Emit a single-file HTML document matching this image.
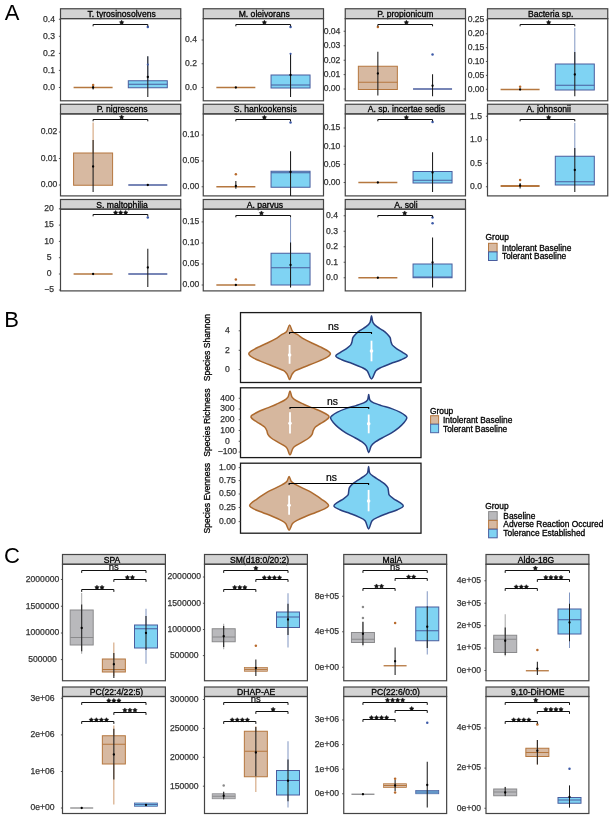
<!DOCTYPE html>
<html><head><meta charset="utf-8"><style>
html,body{margin:0;padding:0;background:#fff;}
body{width:612px;height:818px;overflow:hidden;}
svg{display:block;font-family:"Liberation Sans", sans-serif;will-change:transform;}
</style></head><body>
<svg width="612" height="818" viewBox="0 0 612 818">
<rect width="612" height="818" fill="#fff"/>
<text x="4.70" y="20.00" font-size="22" text-anchor="start" fill="#000" >A</text>
<rect x="60.50" y="8.75" width="120.25" height="9.85" fill="#d3d3d3" stroke="#444444" stroke-width="1.2"/>
<text x="121.62" y="17.07" font-size="8.6" text-anchor="middle" fill="#000" stroke="#000" stroke-width="0.3" >T. tyrosinosolvens</text>
<rect x="60.50" y="18.60" width="120.25" height="82.20" fill="none" stroke="#444444" stroke-width="1.2"/>
<line x1="58.90" y1="19.30" x2="60.50" y2="19.30" stroke="#444444" stroke-width="0.9" />
<text x="49.05" y="21.68" font-size="8.6" text-anchor="middle" fill="#333333" stroke="#333333" stroke-width="0.25" >0.4</text>
<line x1="58.90" y1="36.30" x2="60.50" y2="36.30" stroke="#444444" stroke-width="0.9" />
<text x="49.05" y="38.68" font-size="8.6" text-anchor="middle" fill="#333333" stroke="#333333" stroke-width="0.25" >0.3</text>
<line x1="58.90" y1="53.40" x2="60.50" y2="53.40" stroke="#444444" stroke-width="0.9" />
<text x="49.05" y="55.78" font-size="8.6" text-anchor="middle" fill="#333333" stroke="#333333" stroke-width="0.25" >0.2</text>
<line x1="58.90" y1="70.40" x2="60.50" y2="70.40" stroke="#444444" stroke-width="0.9" />
<text x="49.05" y="72.78" font-size="8.6" text-anchor="middle" fill="#333333" stroke="#333333" stroke-width="0.25" >0.1</text>
<line x1="58.90" y1="87.50" x2="60.50" y2="87.50" stroke="#444444" stroke-width="0.9" />
<text x="49.05" y="89.88" font-size="8.6" text-anchor="middle" fill="#333333" stroke="#333333" stroke-width="0.25" >0.0</text>
<line x1="73.60" y1="87.50" x2="112.60" y2="87.50" stroke="#b5773f" stroke-width="1.3" />
<line x1="93.10" y1="85.50" x2="93.10" y2="89.50" stroke="#1c1c1c" stroke-width="1.05" />
<circle cx="93.10" cy="85.00" r="1.25" fill="#b86a2c"/>
<circle cx="93.10" cy="87.50" r="1.15" fill="#000"/>
<line x1="147.80" y1="56.50" x2="147.80" y2="87.75" stroke="#8196c2" stroke-width="1.0" />
<rect x="128.30" y="80.75" width="39.00" height="7.00" fill="#7fd3f3" stroke="#4a5d9e" stroke-width="1.0"/>
<line x1="128.30" y1="84.25" x2="167.30" y2="84.25" stroke="#4a5d9e" stroke-width="1.0" />
<line x1="147.80" y1="56.25" x2="147.80" y2="97.00" stroke="#1c1c1c" stroke-width="1.05" />
<circle cx="147.80" cy="27.00" r="1.25" fill="#3d5aa8"/>
<circle cx="147.80" cy="64.50" r="1.1" fill="#3d5aa8"/>
<circle cx="147.80" cy="77.00" r="1.15" fill="#000"/>
<path d="M93.10 26.30 L93.10 24.50 L147.80 24.50 L147.80 26.30" fill="none" stroke="#111" stroke-width="1.0" stroke-linejoin="round"/>
<polygon points="121.65,20.20 122.39,21.48 123.84,21.79 122.85,22.89 123.00,24.36 121.65,23.77 120.30,24.36 120.45,22.89 119.46,21.79 120.91,21.48" fill="#111" stroke="#111" stroke-width="0.5" stroke-linejoin="round"/>
<rect x="203.25" y="8.75" width="120.25" height="9.85" fill="#d3d3d3" stroke="#444444" stroke-width="1.2"/>
<text x="264.23" y="17.07" font-size="8.6" text-anchor="middle" fill="#000" stroke="#000" stroke-width="0.3" >M. oleivorans</text>
<rect x="203.25" y="18.60" width="120.25" height="82.20" fill="none" stroke="#444444" stroke-width="1.2"/>
<line x1="201.65" y1="40.00" x2="203.25" y2="40.00" stroke="#444444" stroke-width="0.9" />
<text x="190.95" y="42.38" font-size="8.6" text-anchor="middle" fill="#333333" stroke="#333333" stroke-width="0.25" >0.4</text>
<line x1="201.65" y1="63.75" x2="203.25" y2="63.75" stroke="#444444" stroke-width="0.9" />
<text x="190.95" y="66.13" font-size="8.6" text-anchor="middle" fill="#333333" stroke="#333333" stroke-width="0.25" >0.2</text>
<line x1="201.65" y1="87.50" x2="203.25" y2="87.50" stroke="#444444" stroke-width="0.9" />
<text x="190.95" y="89.88" font-size="8.6" text-anchor="middle" fill="#333333" stroke="#333333" stroke-width="0.25" >0.0</text>
<line x1="216.35" y1="87.50" x2="255.35" y2="87.50" stroke="#b5773f" stroke-width="1.3" />
<circle cx="235.85" cy="87.50" r="1.15" fill="#000"/>
<line x1="290.55" y1="53.75" x2="290.55" y2="88.00" stroke="#8196c2" stroke-width="1.0" />
<rect x="271.05" y="75.00" width="39.00" height="13.00" fill="#7fd3f3" stroke="#4a5d9e" stroke-width="1.0"/>
<line x1="271.05" y1="85.00" x2="310.05" y2="85.00" stroke="#4a5d9e" stroke-width="1.0" />
<line x1="290.55" y1="53.75" x2="290.55" y2="97.00" stroke="#1c1c1c" stroke-width="1.05" />
<circle cx="290.55" cy="27.00" r="1.25" fill="#3d5aa8"/>
<circle cx="290.55" cy="53.75" r="1.1" fill="#3d5aa8"/>
<circle cx="290.55" cy="75.00" r="1.15" fill="#000"/>
<path d="M235.85 26.30 L235.85 24.50 L290.55 24.50 L290.55 26.30" fill="none" stroke="#111" stroke-width="1.0" stroke-linejoin="round"/>
<polygon points="264.40,20.20 265.14,21.48 266.59,21.79 265.60,22.89 265.75,24.36 264.40,23.77 263.05,24.36 263.20,22.89 262.21,21.79 263.66,21.48" fill="#111" stroke="#111" stroke-width="0.5" stroke-linejoin="round"/>
<rect x="345.25" y="8.75" width="120.25" height="9.85" fill="#d3d3d3" stroke="#444444" stroke-width="1.2"/>
<text x="405.38" y="17.07" font-size="8.6" text-anchor="middle" fill="#000" stroke="#000" stroke-width="0.3" >P. propionicum</text>
<rect x="345.25" y="18.60" width="120.25" height="82.20" fill="none" stroke="#444444" stroke-width="1.2"/>
<line x1="343.65" y1="31.25" x2="345.25" y2="31.25" stroke="#444444" stroke-width="0.9" />
<text x="332.00" y="33.63" font-size="8.6" text-anchor="middle" fill="#333333" stroke="#333333" stroke-width="0.25" >0.04</text>
<line x1="343.65" y1="45.75" x2="345.25" y2="45.75" stroke="#444444" stroke-width="0.9" />
<text x="332.00" y="48.13" font-size="8.6" text-anchor="middle" fill="#333333" stroke="#333333" stroke-width="0.25" >0.03</text>
<line x1="343.65" y1="60.25" x2="345.25" y2="60.25" stroke="#444444" stroke-width="0.9" />
<text x="332.00" y="62.63" font-size="8.6" text-anchor="middle" fill="#333333" stroke="#333333" stroke-width="0.25" >0.02</text>
<line x1="343.65" y1="74.60" x2="345.25" y2="74.60" stroke="#444444" stroke-width="0.9" />
<text x="332.00" y="76.98" font-size="8.6" text-anchor="middle" fill="#333333" stroke="#333333" stroke-width="0.25" >0.01</text>
<line x1="343.65" y1="89.00" x2="345.25" y2="89.00" stroke="#444444" stroke-width="0.9" />
<text x="332.00" y="91.38" font-size="8.6" text-anchor="middle" fill="#333333" stroke="#333333" stroke-width="0.25" >0.00</text>
<rect x="358.35" y="66.25" width="39.00" height="23.25" fill="#d7b9a1" stroke="#b5773f" stroke-width="1.0"/>
<line x1="358.35" y1="82.25" x2="397.35" y2="82.25" stroke="#b5773f" stroke-width="1.0" />
<line x1="377.85" y1="51.75" x2="377.85" y2="95.50" stroke="#1c1c1c" stroke-width="1.05" />
<circle cx="377.85" cy="27.00" r="1.25" fill="#b86a2c"/>
<circle cx="377.85" cy="73.50" r="1.15" fill="#000"/>
<line x1="413.05" y1="89.00" x2="452.05" y2="89.00" stroke="#4a5d9e" stroke-width="1.3" />
<line x1="432.55" y1="74.25" x2="432.55" y2="96.25" stroke="#1c1c1c" stroke-width="1.05" />
<circle cx="432.55" cy="54.50" r="1.25" fill="#3d5aa8"/>
<circle cx="432.55" cy="85.75" r="1.15" fill="#000"/>
<path d="M377.85 26.30 L377.85 24.50 L432.55 24.50 L432.55 26.30" fill="none" stroke="#111" stroke-width="1.0" stroke-linejoin="round"/>
<polygon points="406.40,20.20 407.14,21.48 408.59,21.79 407.60,22.89 407.75,24.36 406.40,23.77 405.05,24.36 405.20,22.89 404.21,21.79 405.66,21.48" fill="#111" stroke="#111" stroke-width="0.5" stroke-linejoin="round"/>
<rect x="487.50" y="8.75" width="120.25" height="9.85" fill="#d3d3d3" stroke="#444444" stroke-width="1.2"/>
<text x="550.62" y="17.07" font-size="8.6" text-anchor="middle" fill="#000" stroke="#000" stroke-width="0.3" >Bacteria sp.</text>
<rect x="487.50" y="18.60" width="120.25" height="82.20" fill="none" stroke="#444444" stroke-width="1.2"/>
<line x1="485.90" y1="20.00" x2="487.50" y2="20.00" stroke="#444444" stroke-width="0.9" />
<text x="476.00" y="22.38" font-size="8.6" text-anchor="middle" fill="#333333" stroke="#333333" stroke-width="0.25" >0.25</text>
<line x1="485.90" y1="33.80" x2="487.50" y2="33.80" stroke="#444444" stroke-width="0.9" />
<text x="476.00" y="36.18" font-size="8.6" text-anchor="middle" fill="#333333" stroke="#333333" stroke-width="0.25" >0.20</text>
<line x1="485.90" y1="47.70" x2="487.50" y2="47.70" stroke="#444444" stroke-width="0.9" />
<text x="476.00" y="50.08" font-size="8.6" text-anchor="middle" fill="#333333" stroke="#333333" stroke-width="0.25" >0.15</text>
<line x1="485.90" y1="61.50" x2="487.50" y2="61.50" stroke="#444444" stroke-width="0.9" />
<text x="476.00" y="63.88" font-size="8.6" text-anchor="middle" fill="#333333" stroke="#333333" stroke-width="0.25" >0.10</text>
<line x1="485.90" y1="75.40" x2="487.50" y2="75.40" stroke="#444444" stroke-width="0.9" />
<text x="476.00" y="77.78" font-size="8.6" text-anchor="middle" fill="#333333" stroke="#333333" stroke-width="0.25" >0.05</text>
<line x1="485.90" y1="89.25" x2="487.50" y2="89.25" stroke="#444444" stroke-width="0.9" />
<text x="476.00" y="91.63" font-size="8.6" text-anchor="middle" fill="#333333" stroke="#333333" stroke-width="0.25" >0.00</text>
<line x1="500.60" y1="89.50" x2="539.60" y2="89.50" stroke="#b5773f" stroke-width="1.3" />
<circle cx="520.10" cy="86.80" r="1.25" fill="#b86a2c"/>
<circle cx="520.10" cy="89.50" r="1.15" fill="#000"/>
<line x1="574.80" y1="28.00" x2="574.80" y2="64.00" stroke="#8196c2" stroke-width="1.0" />
<rect x="555.30" y="64.00" width="39.00" height="26.00" fill="#7fd3f3" stroke="#4a5d9e" stroke-width="1.0"/>
<line x1="555.30" y1="85.25" x2="594.30" y2="85.25" stroke="#4a5d9e" stroke-width="1.0" />
<line x1="574.80" y1="52.00" x2="574.80" y2="96.25" stroke="#1c1c1c" stroke-width="1.05" />
<circle cx="574.80" cy="74.50" r="1.15" fill="#000"/>
<path d="M520.10 26.30 L520.10 24.50 L574.80 24.50 L574.80 26.30" fill="none" stroke="#111" stroke-width="1.0" stroke-linejoin="round"/>
<polygon points="548.65,20.20 549.39,21.48 550.84,21.79 549.85,22.89 550.00,24.36 548.65,23.77 547.30,24.36 547.45,22.89 546.46,21.79 547.91,21.48" fill="#111" stroke="#111" stroke-width="0.5" stroke-linejoin="round"/>
<rect x="60.50" y="104.25" width="120.25" height="9.65" fill="#d3d3d3" stroke="#444444" stroke-width="1.2"/>
<text x="122.12" y="112.47" font-size="8.6" text-anchor="middle" fill="#000" stroke="#000" stroke-width="0.3" >P. nigrescens</text>
<rect x="60.50" y="113.90" width="120.25" height="82.00" fill="none" stroke="#444444" stroke-width="1.2"/>
<line x1="58.90" y1="132.00" x2="60.50" y2="132.00" stroke="#444444" stroke-width="0.9" />
<text x="49.05" y="134.38" font-size="8.6" text-anchor="middle" fill="#333333" stroke="#333333" stroke-width="0.25" >0.02</text>
<line x1="58.90" y1="158.50" x2="60.50" y2="158.50" stroke="#444444" stroke-width="0.9" />
<text x="49.05" y="160.88" font-size="8.6" text-anchor="middle" fill="#333333" stroke="#333333" stroke-width="0.25" >0.01</text>
<line x1="58.90" y1="185.00" x2="60.50" y2="185.00" stroke="#444444" stroke-width="0.9" />
<text x="49.05" y="187.38" font-size="8.6" text-anchor="middle" fill="#333333" stroke="#333333" stroke-width="0.25" >0.00</text>
<line x1="93.10" y1="122.50" x2="93.10" y2="153.00" stroke="#cf9a6e" stroke-width="1.0" />
<rect x="73.60" y="153.00" width="39.00" height="32.25" fill="#d7b9a1" stroke="#b5773f" stroke-width="1.0"/>
<line x1="93.10" y1="140.00" x2="93.10" y2="192.00" stroke="#1c1c1c" stroke-width="1.05" />
<circle cx="93.10" cy="166.50" r="1.15" fill="#000"/>
<line x1="128.30" y1="185.00" x2="167.30" y2="185.00" stroke="#4a5d9e" stroke-width="1.3" />
<circle cx="147.80" cy="185.00" r="1.15" fill="#000"/>
<path d="M93.10 121.30 L93.10 119.50 L147.80 119.50 L147.80 121.30" fill="none" stroke="#111" stroke-width="1.0" stroke-linejoin="round"/>
<polygon points="121.65,114.95 122.39,116.23 123.84,116.54 122.85,117.64 123.00,119.11 121.65,118.52 120.30,119.11 120.45,117.64 119.46,116.54 120.91,116.23" fill="#111" stroke="#111" stroke-width="0.5" stroke-linejoin="round"/>
<rect x="203.25" y="104.25" width="120.25" height="9.65" fill="#d3d3d3" stroke="#444444" stroke-width="1.2"/>
<text x="265.23" y="112.47" font-size="8.6" text-anchor="middle" fill="#000" stroke="#000" stroke-width="0.3" >S. hankookensis</text>
<rect x="203.25" y="113.90" width="120.25" height="82.00" fill="none" stroke="#444444" stroke-width="1.2"/>
<line x1="201.65" y1="135.00" x2="203.25" y2="135.00" stroke="#444444" stroke-width="0.9" />
<text x="190.95" y="137.38" font-size="8.6" text-anchor="middle" fill="#333333" stroke="#333333" stroke-width="0.25" >0.10</text>
<line x1="201.65" y1="161.00" x2="203.25" y2="161.00" stroke="#444444" stroke-width="0.9" />
<text x="190.95" y="163.38" font-size="8.6" text-anchor="middle" fill="#333333" stroke="#333333" stroke-width="0.25" >0.05</text>
<line x1="201.65" y1="186.75" x2="203.25" y2="186.75" stroke="#444444" stroke-width="0.9" />
<text x="190.95" y="189.13" font-size="8.6" text-anchor="middle" fill="#333333" stroke="#333333" stroke-width="0.25" >0.00</text>
<line x1="216.35" y1="186.75" x2="255.35" y2="186.75" stroke="#b5773f" stroke-width="1.3" />
<line x1="235.85" y1="181.00" x2="235.85" y2="188.75" stroke="#1c1c1c" stroke-width="1.05" />
<circle cx="235.85" cy="174.25" r="1.25" fill="#b86a2c"/>
<circle cx="235.85" cy="186.00" r="1.15" fill="#000"/>
<rect x="271.05" y="171.25" width="39.00" height="16.00" fill="#7fd3f3" stroke="#4a5d9e" stroke-width="1.0"/>
<line x1="271.05" y1="172.75" x2="310.05" y2="172.75" stroke="#4a5d9e" stroke-width="1.0" />
<line x1="290.55" y1="151.25" x2="290.55" y2="196.00" stroke="#1c1c1c" stroke-width="1.05" />
<circle cx="290.55" cy="122.50" r="1.25" fill="#3d5aa8"/>
<circle cx="290.55" cy="172.00" r="1.15" fill="#000"/>
<path d="M235.85 121.30 L235.85 119.50 L290.55 119.50 L290.55 121.30" fill="none" stroke="#111" stroke-width="1.0" stroke-linejoin="round"/>
<polygon points="264.40,115.20 265.14,116.48 266.59,116.79 265.60,117.89 265.75,119.36 264.40,118.77 263.05,119.36 263.20,117.89 262.21,116.79 263.66,116.48" fill="#111" stroke="#111" stroke-width="0.5" stroke-linejoin="round"/>
<rect x="345.25" y="104.25" width="120.25" height="9.65" fill="#d3d3d3" stroke="#444444" stroke-width="1.2"/>
<text x="406.38" y="112.47" font-size="8.6" text-anchor="middle" fill="#000" stroke="#000" stroke-width="0.3" >A. sp. incertae sedis</text>
<rect x="345.25" y="113.90" width="120.25" height="82.00" fill="none" stroke="#444444" stroke-width="1.2"/>
<line x1="343.65" y1="128.00" x2="345.25" y2="128.00" stroke="#444444" stroke-width="0.9" />
<text x="332.00" y="130.38" font-size="8.6" text-anchor="middle" fill="#333333" stroke="#333333" stroke-width="0.25" >0.15</text>
<line x1="343.65" y1="146.20" x2="345.25" y2="146.20" stroke="#444444" stroke-width="0.9" />
<text x="332.00" y="148.58" font-size="8.6" text-anchor="middle" fill="#333333" stroke="#333333" stroke-width="0.25" >0.10</text>
<line x1="343.65" y1="164.40" x2="345.25" y2="164.40" stroke="#444444" stroke-width="0.9" />
<text x="332.00" y="166.78" font-size="8.6" text-anchor="middle" fill="#333333" stroke="#333333" stroke-width="0.25" >0.05</text>
<line x1="343.65" y1="182.50" x2="345.25" y2="182.50" stroke="#444444" stroke-width="0.9" />
<text x="332.00" y="184.88" font-size="8.6" text-anchor="middle" fill="#333333" stroke="#333333" stroke-width="0.25" >0.00</text>
<line x1="358.35" y1="182.50" x2="397.35" y2="182.50" stroke="#b5773f" stroke-width="1.3" />
<circle cx="377.85" cy="182.50" r="1.15" fill="#000"/>
<rect x="413.05" y="171.50" width="39.00" height="11.50" fill="#7fd3f3" stroke="#4a5d9e" stroke-width="1.0"/>
<line x1="413.05" y1="180.25" x2="452.05" y2="180.25" stroke="#4a5d9e" stroke-width="1.0" />
<line x1="432.55" y1="152.25" x2="432.55" y2="192.00" stroke="#1c1c1c" stroke-width="1.05" />
<circle cx="432.55" cy="122.00" r="1.25" fill="#3d5aa8"/>
<circle cx="432.55" cy="172.50" r="1.15" fill="#000"/>
<path d="M377.85 121.30 L377.85 119.50 L432.55 119.50 L432.55 121.30" fill="none" stroke="#111" stroke-width="1.0" stroke-linejoin="round"/>
<polygon points="406.40,115.20 407.14,116.48 408.59,116.79 407.60,117.89 407.75,119.36 406.40,118.77 405.05,119.36 405.20,117.89 404.21,116.79 405.66,116.48" fill="#111" stroke="#111" stroke-width="0.5" stroke-linejoin="round"/>
<rect x="487.50" y="104.25" width="120.25" height="9.65" fill="#d3d3d3" stroke="#444444" stroke-width="1.2"/>
<text x="548.62" y="112.47" font-size="8.6" text-anchor="middle" fill="#000" stroke="#000" stroke-width="0.3" >A. johnsonii</text>
<rect x="487.50" y="113.90" width="120.25" height="82.00" fill="none" stroke="#444444" stroke-width="1.2"/>
<line x1="485.90" y1="116.25" x2="487.50" y2="116.25" stroke="#444444" stroke-width="0.9" />
<text x="476.00" y="118.63" font-size="8.6" text-anchor="middle" fill="#333333" stroke="#333333" stroke-width="0.25" >1.5</text>
<line x1="485.90" y1="139.75" x2="487.50" y2="139.75" stroke="#444444" stroke-width="0.9" />
<text x="476.00" y="142.13" font-size="8.6" text-anchor="middle" fill="#333333" stroke="#333333" stroke-width="0.25" >1.0</text>
<line x1="485.90" y1="163.25" x2="487.50" y2="163.25" stroke="#444444" stroke-width="0.9" />
<text x="476.00" y="165.63" font-size="8.6" text-anchor="middle" fill="#333333" stroke="#333333" stroke-width="0.25" >0.5</text>
<line x1="485.90" y1="186.75" x2="487.50" y2="186.75" stroke="#444444" stroke-width="0.9" />
<text x="476.00" y="189.13" font-size="8.6" text-anchor="middle" fill="#333333" stroke="#333333" stroke-width="0.25" >0.0</text>
<line x1="500.60" y1="186.00" x2="539.60" y2="186.00" stroke="#b5773f" stroke-width="2.0" />
<line x1="520.10" y1="183.00" x2="520.10" y2="188.50" stroke="#1c1c1c" stroke-width="1.05" />
<circle cx="520.10" cy="180.00" r="1.25" fill="#b86a2c"/>
<circle cx="520.10" cy="185.50" r="1.15" fill="#000"/>
<line x1="574.80" y1="123.00" x2="574.80" y2="156.25" stroke="#8196c2" stroke-width="1.0" />
<rect x="555.30" y="156.25" width="39.00" height="28.75" fill="#7fd3f3" stroke="#4a5d9e" stroke-width="1.0"/>
<line x1="555.30" y1="181.75" x2="594.30" y2="181.75" stroke="#4a5d9e" stroke-width="1.0" />
<line x1="574.80" y1="148.00" x2="574.80" y2="192.00" stroke="#1c1c1c" stroke-width="1.05" />
<circle cx="574.80" cy="170.00" r="1.15" fill="#000"/>
<path d="M520.10 121.30 L520.10 119.50 L574.80 119.50 L574.80 121.30" fill="none" stroke="#111" stroke-width="1.0" stroke-linejoin="round"/>
<polygon points="548.65,115.20 549.39,116.48 550.84,116.79 549.85,117.89 550.00,119.36 548.65,118.77 547.30,119.36 547.45,117.89 546.46,116.79 547.91,116.48" fill="#111" stroke="#111" stroke-width="0.5" stroke-linejoin="round"/>
<rect x="60.50" y="199.50" width="120.25" height="9.70" fill="#d3d3d3" stroke="#444444" stroke-width="1.2"/>
<text x="122.12" y="207.75" font-size="8.6" text-anchor="middle" fill="#000" stroke="#000" stroke-width="0.3" >S. maltophilia</text>
<rect x="60.50" y="209.20" width="120.25" height="81.70" fill="none" stroke="#444444" stroke-width="1.2"/>
<line x1="58.90" y1="208.80" x2="60.50" y2="208.80" stroke="#444444" stroke-width="0.9" />
<text x="49.05" y="211.18" font-size="8.6" text-anchor="middle" fill="#333333" stroke="#333333" stroke-width="0.25" >20</text>
<line x1="58.90" y1="225.10" x2="60.50" y2="225.10" stroke="#444444" stroke-width="0.9" />
<text x="49.05" y="227.48" font-size="8.6" text-anchor="middle" fill="#333333" stroke="#333333" stroke-width="0.25" >15</text>
<line x1="58.90" y1="241.40" x2="60.50" y2="241.40" stroke="#444444" stroke-width="0.9" />
<text x="49.05" y="243.78" font-size="8.6" text-anchor="middle" fill="#333333" stroke="#333333" stroke-width="0.25" >10</text>
<line x1="58.90" y1="257.70" x2="60.50" y2="257.70" stroke="#444444" stroke-width="0.9" />
<text x="49.05" y="260.08" font-size="8.6" text-anchor="middle" fill="#333333" stroke="#333333" stroke-width="0.25" >5</text>
<line x1="58.90" y1="274.00" x2="60.50" y2="274.00" stroke="#444444" stroke-width="0.9" />
<text x="49.05" y="276.38" font-size="8.6" text-anchor="middle" fill="#333333" stroke="#333333" stroke-width="0.25" >0</text>
<line x1="58.90" y1="290.00" x2="60.50" y2="290.00" stroke="#444444" stroke-width="0.9" />
<text x="49.05" y="292.38" font-size="8.6" text-anchor="middle" fill="#333333" stroke="#333333" stroke-width="0.25" >&#8722;5</text>
<line x1="73.60" y1="274.00" x2="112.60" y2="274.00" stroke="#b5773f" stroke-width="1.3" />
<circle cx="93.10" cy="274.00" r="1.15" fill="#000"/>
<line x1="128.30" y1="274.00" x2="167.30" y2="274.00" stroke="#4a5d9e" stroke-width="1.3" />
<line x1="147.80" y1="248.75" x2="147.80" y2="287.00" stroke="#1c1c1c" stroke-width="1.05" />
<circle cx="147.80" cy="217.50" r="1.25" fill="#3d5aa8"/>
<circle cx="147.80" cy="267.50" r="1.15" fill="#000"/>
<path d="M93.10 216.30 L93.10 214.50 L147.80 214.50 L147.80 216.30" fill="none" stroke="#111" stroke-width="1.0" stroke-linejoin="round"/>
<polygon points="115.60,210.45 116.34,211.73 117.79,212.04 116.80,213.14 116.95,214.61 115.60,214.01 114.25,214.61 114.40,213.14 113.41,212.04 114.86,211.73" fill="#111" stroke="#111" stroke-width="0.5" stroke-linejoin="round"/>
<polygon points="120.65,210.45 121.39,211.73 122.84,212.04 121.85,213.14 122.00,214.61 120.65,214.01 119.30,214.61 119.45,213.14 118.46,212.04 119.91,211.73" fill="#111" stroke="#111" stroke-width="0.5" stroke-linejoin="round"/>
<polygon points="125.70,210.45 126.44,211.73 127.89,212.04 126.90,213.14 127.05,214.61 125.70,214.01 124.35,214.61 124.50,213.14 123.51,212.04 124.96,211.73" fill="#111" stroke="#111" stroke-width="0.5" stroke-linejoin="round"/>
<rect x="203.25" y="199.50" width="120.25" height="9.70" fill="#d3d3d3" stroke="#444444" stroke-width="1.2"/>
<text x="264.88" y="207.75" font-size="8.6" text-anchor="middle" fill="#000" stroke="#000" stroke-width="0.3" >A. parvus</text>
<rect x="203.25" y="209.20" width="120.25" height="81.70" fill="none" stroke="#444444" stroke-width="1.2"/>
<line x1="201.65" y1="221.90" x2="203.25" y2="221.90" stroke="#444444" stroke-width="0.9" />
<text x="190.95" y="224.28" font-size="8.6" text-anchor="middle" fill="#333333" stroke="#333333" stroke-width="0.25" >0.15</text>
<line x1="201.65" y1="243.00" x2="203.25" y2="243.00" stroke="#444444" stroke-width="0.9" />
<text x="190.95" y="245.38" font-size="8.6" text-anchor="middle" fill="#333333" stroke="#333333" stroke-width="0.25" >0.10</text>
<line x1="201.65" y1="264.00" x2="203.25" y2="264.00" stroke="#444444" stroke-width="0.9" />
<text x="190.95" y="266.38" font-size="8.6" text-anchor="middle" fill="#333333" stroke="#333333" stroke-width="0.25" >0.05</text>
<line x1="201.65" y1="285.00" x2="203.25" y2="285.00" stroke="#444444" stroke-width="0.9" />
<text x="190.95" y="287.38" font-size="8.6" text-anchor="middle" fill="#333333" stroke="#333333" stroke-width="0.25" >0.00</text>
<line x1="216.35" y1="285.00" x2="255.35" y2="285.00" stroke="#b5773f" stroke-width="1.3" />
<circle cx="235.85" cy="279.50" r="1.25" fill="#b86a2c"/>
<circle cx="235.85" cy="285.00" r="1.15" fill="#000"/>
<line x1="290.55" y1="217.50" x2="290.55" y2="253.25" stroke="#8196c2" stroke-width="1.0" />
<rect x="271.05" y="253.25" width="39.00" height="31.75" fill="#7fd3f3" stroke="#4a5d9e" stroke-width="1.0"/>
<line x1="271.05" y1="267.75" x2="310.05" y2="267.75" stroke="#4a5d9e" stroke-width="1.0" />
<line x1="290.55" y1="242.50" x2="290.55" y2="287.50" stroke="#1c1c1c" stroke-width="1.05" />
<circle cx="290.55" cy="265.00" r="1.15" fill="#000"/>
<path d="M235.85 217.30 L235.85 215.50 L290.55 215.50 L290.55 217.30" fill="none" stroke="#111" stroke-width="1.0" stroke-linejoin="round"/>
<polygon points="261.45,210.95 262.19,212.23 263.64,212.54 262.65,213.64 262.80,215.11 261.45,214.51 260.10,215.11 260.25,213.64 259.26,212.54 260.71,212.23" fill="#111" stroke="#111" stroke-width="0.5" stroke-linejoin="round"/>
<rect x="345.25" y="199.50" width="120.25" height="9.70" fill="#d3d3d3" stroke="#444444" stroke-width="1.2"/>
<text x="405.88" y="207.75" font-size="8.6" text-anchor="middle" fill="#000" stroke="#000" stroke-width="0.3" >A. soli</text>
<rect x="345.25" y="209.20" width="120.25" height="81.70" fill="none" stroke="#444444" stroke-width="1.2"/>
<line x1="343.65" y1="215.75" x2="345.25" y2="215.75" stroke="#444444" stroke-width="0.9" />
<text x="332.00" y="218.13" font-size="8.6" text-anchor="middle" fill="#333333" stroke="#333333" stroke-width="0.25" >0.4</text>
<line x1="343.65" y1="231.25" x2="345.25" y2="231.25" stroke="#444444" stroke-width="0.9" />
<text x="332.00" y="233.63" font-size="8.6" text-anchor="middle" fill="#333333" stroke="#333333" stroke-width="0.25" >0.3</text>
<line x1="343.65" y1="246.75" x2="345.25" y2="246.75" stroke="#444444" stroke-width="0.9" />
<text x="332.00" y="249.13" font-size="8.6" text-anchor="middle" fill="#333333" stroke="#333333" stroke-width="0.25" >0.2</text>
<line x1="343.65" y1="262.25" x2="345.25" y2="262.25" stroke="#444444" stroke-width="0.9" />
<text x="332.00" y="264.63" font-size="8.6" text-anchor="middle" fill="#333333" stroke="#333333" stroke-width="0.25" >0.1</text>
<line x1="343.65" y1="277.75" x2="345.25" y2="277.75" stroke="#444444" stroke-width="0.9" />
<text x="332.00" y="280.13" font-size="8.6" text-anchor="middle" fill="#333333" stroke="#333333" stroke-width="0.25" >0.0</text>
<line x1="358.35" y1="277.75" x2="397.35" y2="277.75" stroke="#b5773f" stroke-width="1.3" />
<circle cx="377.85" cy="277.75" r="1.15" fill="#000"/>
<rect x="413.05" y="264.00" width="39.00" height="13.75" fill="#7fd3f3" stroke="#4a5d9e" stroke-width="1.0"/>
<line x1="413.05" y1="277.00" x2="452.05" y2="277.00" stroke="#4a5d9e" stroke-width="1.0" />
<line x1="432.55" y1="237.50" x2="432.55" y2="287.50" stroke="#1c1c1c" stroke-width="1.05" />
<circle cx="432.55" cy="217.50" r="1.25" fill="#3d5aa8"/>
<circle cx="432.55" cy="223.25" r="1.25" fill="#3d5aa8"/>
<circle cx="432.55" cy="262.50" r="1.15" fill="#000"/>
<path d="M377.85 217.30 L377.85 215.50 L432.55 215.50 L432.55 217.30" fill="none" stroke="#111" stroke-width="1.0" stroke-linejoin="round"/>
<polygon points="404.70,210.95 405.44,212.23 406.89,212.54 405.90,213.64 406.05,215.11 404.70,214.51 403.35,215.11 403.50,213.64 402.51,212.54 403.96,212.23" fill="#111" stroke="#111" stroke-width="0.5" stroke-linejoin="round"/>
<text x="485.60" y="239.60" font-size="8.4" text-anchor="start" fill="#000" stroke="#000" stroke-width="0.3" >Group</text>
<rect x="488.5" y="243.3" width="8.6" height="8.6" fill="#d7b9a1" stroke="#b5773f" stroke-width="1"/>
<rect x="488.5" y="251.9" width="8.6" height="8.6" fill="#7fd3f3" stroke="#4a5d9e" stroke-width="1"/>
<text x="502.00" y="250.60" font-size="8.4" text-anchor="start" fill="#000" stroke="#000" stroke-width="0.3" >Intolerant Baseline</text>
<text x="502.00" y="259.20" font-size="8.4" text-anchor="start" fill="#000" stroke="#000" stroke-width="0.3" >Tolerant Baseline</text>
<text x="4.20" y="326.80" font-size="22" text-anchor="start" fill="#000" >B</text>
<rect x="240.50" y="312.60" width="180.50" height="69.90" fill="none" stroke="#1a1a1a" stroke-width="1.3"/>
<line x1="238.70" y1="330.80" x2="240.50" y2="330.80" stroke="#444444" stroke-width="0.9" />
<text x="227.40" y="333.18" font-size="8.6" text-anchor="middle" fill="#333333" stroke="#333333" stroke-width="0.25" >4</text>
<line x1="238.70" y1="350.30" x2="240.50" y2="350.30" stroke="#444444" stroke-width="0.9" />
<text x="227.40" y="352.68" font-size="8.6" text-anchor="middle" fill="#333333" stroke="#333333" stroke-width="0.25" >2</text>
<line x1="238.70" y1="369.60" x2="240.50" y2="369.60" stroke="#444444" stroke-width="0.9" />
<text x="227.40" y="371.98" font-size="8.6" text-anchor="middle" fill="#333333" stroke="#333333" stroke-width="0.25" >0</text>
<text transform="translate(210.4 347.55) rotate(-90)" font-size="8.6" text-anchor="middle" fill="#000" stroke="#000" stroke-width="0.3">Species Shannon</text>
<path d="M289.60 325.10 C290.63 325.10 291.37 330.20 292.70 331.80 C294.03 333.40 295.68 333.48 297.60 334.70 C299.52 335.92 301.63 337.63 304.20 339.10 C306.77 340.57 310.20 342.15 313.00 343.50 C315.80 344.85 318.55 345.97 321.00 347.20 C323.45 348.43 326.13 349.77 327.70 350.90 C329.27 352.03 330.77 352.78 330.40 354.00 C330.03 355.22 328.03 356.77 325.50 358.20 C322.97 359.63 318.75 361.13 315.20 362.60 C311.65 364.07 307.50 365.65 304.20 367.00 C300.90 368.35 297.43 369.47 295.40 370.70 C293.37 371.93 292.97 372.92 292.00 374.40 C291.03 375.88 290.40 379.60 289.60 379.60 C288.80 379.60 288.17 375.88 287.20 374.40 C286.23 372.92 285.83 371.93 283.80 370.70 C281.77 369.47 278.30 368.35 275.00 367.00 C271.70 365.65 267.55 364.07 264.00 362.60 C260.45 361.13 256.23 359.63 253.70 358.20 C251.17 356.77 249.17 355.22 248.80 354.00 C248.43 352.78 249.93 352.03 251.50 350.90 C253.07 349.77 255.75 348.43 258.20 347.20 C260.65 345.97 263.40 344.85 266.20 343.50 C269.00 342.15 272.43 340.57 275.00 339.10 C277.57 337.63 279.68 335.92 281.60 334.70 C283.52 333.48 285.17 333.40 286.50 331.80 C287.83 330.20 288.57 325.10 289.60 325.10 Z" fill="#d6b79e" stroke="#ad6a2e" stroke-width="1.5" stroke-linejoin="round"/>
<path d="M371.50 315.70 C371.97 315.70 372.00 320.47 372.90 322.30 C373.80 324.13 375.23 325.35 376.90 326.70 C378.57 328.05 381.18 329.18 382.90 330.40 C384.62 331.62 386.00 332.78 387.20 334.00 C388.40 335.22 389.48 336.47 390.10 337.70 C390.72 338.93 390.52 340.17 390.90 341.40 C391.28 342.63 391.40 343.87 392.40 345.10 C393.40 346.33 395.20 347.58 396.90 348.80 C398.60 350.02 400.88 351.18 402.60 352.40 C404.32 353.62 407.43 354.87 407.20 356.10 C406.97 357.33 403.92 358.57 401.20 359.80 C398.48 361.03 394.12 362.28 390.90 363.50 C387.68 364.72 384.40 365.88 381.90 367.10 C379.40 368.32 377.63 368.83 375.90 370.80 C374.17 372.77 372.97 378.90 371.50 378.90 C370.03 378.90 368.83 372.77 367.10 370.80 C365.37 368.83 363.60 368.32 361.10 367.10 C358.60 365.88 355.32 364.72 352.10 363.50 C348.88 362.28 344.52 361.03 341.80 359.80 C339.08 358.57 336.03 357.33 335.80 356.10 C335.57 354.87 338.68 353.62 340.40 352.40 C342.12 351.18 344.40 350.02 346.10 348.80 C347.80 347.58 349.60 346.33 350.60 345.10 C351.60 343.87 351.72 342.63 352.10 341.40 C352.48 340.17 352.28 338.93 352.90 337.70 C353.52 336.47 354.60 335.22 355.80 334.00 C357.00 332.78 358.38 331.62 360.10 330.40 C361.82 329.18 364.43 328.05 366.10 326.70 C367.77 325.35 369.20 324.13 370.10 322.30 C371.00 320.47 371.03 315.70 371.50 315.70 Z" fill="#7fd3f3" stroke="#283f80" stroke-width="1.5" stroke-linejoin="round"/>
<line x1="289.60" y1="345.00" x2="289.60" y2="363.80" stroke="#ffffff" stroke-width="1.8" />
<circle cx="289.60" cy="355.00" r="1.8" fill="#fff"/>
<line x1="371.50" y1="340.70" x2="371.50" y2="361.30" stroke="#ffffff" stroke-width="1.8" />
<circle cx="371.50" cy="351.00" r="1.8" fill="#fff"/>
<path d="M289.60 334.00 L289.60 332.50 L371.50 332.50 L371.50 334.00" fill="none" stroke="#000" stroke-width="1.1"/>
<text x="333.50" y="330.40" font-size="10.4" text-anchor="middle" fill="#000" stroke="#000" stroke-width="0.2" >ns</text>
<rect x="240.50" y="387.80" width="180.50" height="69.80" fill="none" stroke="#1a1a1a" stroke-width="1.3"/>
<line x1="238.70" y1="398.25" x2="240.50" y2="398.25" stroke="#444444" stroke-width="0.9" />
<text x="227.40" y="400.63" font-size="8.6" text-anchor="middle" fill="#333333" stroke="#333333" stroke-width="0.25" >400</text>
<line x1="238.70" y1="409.00" x2="240.50" y2="409.00" stroke="#444444" stroke-width="0.9" />
<text x="227.40" y="411.38" font-size="8.6" text-anchor="middle" fill="#333333" stroke="#333333" stroke-width="0.25" >300</text>
<line x1="238.70" y1="419.75" x2="240.50" y2="419.75" stroke="#444444" stroke-width="0.9" />
<text x="227.40" y="422.13" font-size="8.6" text-anchor="middle" fill="#333333" stroke="#333333" stroke-width="0.25" >200</text>
<line x1="238.70" y1="430.50" x2="240.50" y2="430.50" stroke="#444444" stroke-width="0.9" />
<text x="227.40" y="432.88" font-size="8.6" text-anchor="middle" fill="#333333" stroke="#333333" stroke-width="0.25" >100</text>
<line x1="238.70" y1="441.25" x2="240.50" y2="441.25" stroke="#444444" stroke-width="0.9" />
<text x="227.40" y="443.63" font-size="8.6" text-anchor="middle" fill="#333333" stroke="#333333" stroke-width="0.25" >0</text>
<line x1="238.70" y1="452.00" x2="240.50" y2="452.00" stroke="#444444" stroke-width="0.9" />
<text x="227.40" y="454.38" font-size="8.6" text-anchor="middle" fill="#333333" stroke="#333333" stroke-width="0.25" >&#8722;100</text>
<text transform="translate(210.4 422.70) rotate(-90)" font-size="8.6" text-anchor="middle" fill="#000" stroke="#000" stroke-width="0.3">Species Richness</text>
<path d="M290.00 390.90 C290.63 390.90 290.90 395.20 291.90 396.80 C292.90 398.40 294.05 399.27 296.00 400.50 C297.95 401.73 300.87 402.97 303.60 404.20 C306.33 405.43 309.45 406.68 312.40 407.90 C315.35 409.12 318.72 410.28 321.30 411.50 C323.88 412.72 326.63 414.22 327.90 415.20 C329.17 416.18 329.27 416.53 328.90 417.40 C328.53 418.27 327.22 419.30 325.70 420.40 C324.18 421.50 321.52 422.90 319.80 424.00 C318.08 425.10 316.50 425.90 315.40 427.00 C314.30 428.10 313.75 429.38 313.20 430.60 C312.65 431.82 312.83 433.07 312.10 434.30 C311.37 435.53 310.33 436.77 308.80 438.00 C307.27 439.23 304.98 440.47 302.90 441.70 C300.82 442.93 297.97 444.30 296.30 445.40 C294.63 446.50 293.95 446.72 292.90 448.30 C291.85 449.88 290.97 454.90 290.00 454.90 C289.03 454.90 288.15 449.88 287.10 448.30 C286.05 446.72 285.37 446.50 283.70 445.40 C282.03 444.30 279.18 442.93 277.10 441.70 C275.02 440.47 272.73 439.23 271.20 438.00 C269.67 436.77 268.63 435.53 267.90 434.30 C267.17 433.07 267.35 431.82 266.80 430.60 C266.25 429.38 265.70 428.10 264.60 427.00 C263.50 425.90 261.92 425.10 260.20 424.00 C258.48 422.90 255.82 421.50 254.30 420.40 C252.78 419.30 251.47 418.27 251.10 417.40 C250.73 416.53 250.83 416.18 252.10 415.20 C253.37 414.22 256.12 412.72 258.70 411.50 C261.28 410.28 264.65 409.12 267.60 407.90 C270.55 406.68 273.67 405.43 276.40 404.20 C279.13 402.97 282.05 401.73 284.00 400.50 C285.95 399.27 287.10 398.40 288.10 396.80 C289.10 395.20 289.37 390.90 290.00 390.90 Z" fill="#d6b79e" stroke="#ad6a2e" stroke-width="1.5" stroke-linejoin="round"/>
<path d="M368.70 394.60 C369.07 394.60 369.05 398.45 369.80 399.80 C370.55 401.15 371.28 401.73 373.20 402.70 C375.12 403.67 378.23 404.62 381.30 405.60 C384.37 406.58 388.42 407.48 391.60 408.60 C394.78 409.72 398.07 411.08 400.40 412.30 C402.73 413.52 404.53 414.93 405.60 415.90 C406.67 416.87 407.05 416.98 406.80 418.10 C406.55 419.22 405.42 421.00 404.10 422.60 C402.78 424.20 400.98 425.98 398.90 427.70 C396.82 429.42 394.42 431.18 391.60 432.90 C388.78 434.62 384.82 436.42 382.00 438.00 C379.18 439.58 376.52 441.05 374.70 442.40 C372.88 443.75 372.10 444.38 371.10 446.10 C370.10 447.82 369.50 452.70 368.70 452.70 C367.90 452.70 367.30 447.82 366.30 446.10 C365.30 444.38 364.52 443.75 362.70 442.40 C360.88 441.05 358.22 439.58 355.40 438.00 C352.58 436.42 348.62 434.62 345.80 432.90 C342.98 431.18 340.58 429.42 338.50 427.70 C336.42 425.98 334.62 424.20 333.30 422.60 C331.98 421.00 330.85 419.22 330.60 418.10 C330.35 416.98 330.73 416.87 331.80 415.90 C332.87 414.93 334.67 413.52 337.00 412.30 C339.33 411.08 342.62 409.72 345.80 408.60 C348.98 407.48 353.03 406.58 356.10 405.60 C359.17 404.62 362.28 403.67 364.20 402.70 C366.12 401.73 366.85 401.15 367.60 399.80 C368.35 398.45 368.33 394.60 368.70 394.60 Z" fill="#7fd3f3" stroke="#283f80" stroke-width="1.5" stroke-linejoin="round"/>
<line x1="290.00" y1="412.30" x2="290.00" y2="433.60" stroke="#ffffff" stroke-width="1.8" />
<circle cx="290.00" cy="423.30" r="1.8" fill="#fff"/>
<line x1="368.70" y1="414.50" x2="368.70" y2="433.30" stroke="#ffffff" stroke-width="1.8" />
<circle cx="368.70" cy="423.70" r="1.8" fill="#fff"/>
<path d="M290.00 409.00 L290.00 407.50 L368.70 407.50 L368.70 409.00" fill="none" stroke="#000" stroke-width="1.1"/>
<text x="332.50" y="404.90" font-size="10.4" text-anchor="middle" fill="#000" stroke="#000" stroke-width="0.2" >ns</text>
<rect x="240.50" y="463.20" width="180.50" height="70.00" fill="none" stroke="#1a1a1a" stroke-width="1.3"/>
<line x1="238.70" y1="467.60" x2="240.50" y2="467.60" stroke="#444444" stroke-width="0.9" />
<text x="227.40" y="469.98" font-size="8.6" text-anchor="middle" fill="#333333" stroke="#333333" stroke-width="0.25" >1.00</text>
<line x1="238.70" y1="480.60" x2="240.50" y2="480.60" stroke="#444444" stroke-width="0.9" />
<text x="227.40" y="482.98" font-size="8.6" text-anchor="middle" fill="#333333" stroke="#333333" stroke-width="0.25" >0.75</text>
<line x1="238.70" y1="494.00" x2="240.50" y2="494.00" stroke="#444444" stroke-width="0.9" />
<text x="227.40" y="496.38" font-size="8.6" text-anchor="middle" fill="#333333" stroke="#333333" stroke-width="0.25" >0.50</text>
<line x1="238.70" y1="507.50" x2="240.50" y2="507.50" stroke="#444444" stroke-width="0.9" />
<text x="227.40" y="509.88" font-size="8.6" text-anchor="middle" fill="#333333" stroke="#333333" stroke-width="0.25" >0.25</text>
<line x1="238.70" y1="521.60" x2="240.50" y2="521.60" stroke="#444444" stroke-width="0.9" />
<text x="227.40" y="523.98" font-size="8.6" text-anchor="middle" fill="#333333" stroke="#333333" stroke-width="0.25" >0.00</text>
<text transform="translate(210.4 498.20) rotate(-90)" font-size="8.6" text-anchor="middle" fill="#000" stroke="#000" stroke-width="0.3">Species Evenness</text>
<path d="M289.10 476.50 C289.87 476.50 290.28 480.25 291.40 481.60 C292.52 482.95 293.83 483.48 295.80 484.60 C297.77 485.72 300.75 487.08 303.20 488.30 C305.65 489.52 308.30 490.68 310.50 491.90 C312.70 493.12 314.55 494.37 316.40 495.60 C318.25 496.83 319.88 498.07 321.60 499.30 C323.32 500.53 325.55 501.90 326.70 503.00 C327.85 504.10 328.87 504.92 328.50 505.90 C328.13 506.88 326.63 507.80 324.50 508.90 C322.37 510.00 318.77 511.28 315.70 512.50 C312.63 513.72 309.05 514.97 306.10 516.20 C303.15 517.43 300.27 518.67 298.00 519.90 C295.73 521.13 293.98 521.88 292.50 523.60 C291.02 525.32 290.23 530.20 289.10 530.20 C287.97 530.20 287.18 525.32 285.70 523.60 C284.22 521.88 282.47 521.13 280.20 519.90 C277.93 518.67 275.05 517.43 272.10 516.20 C269.15 514.97 265.57 513.72 262.50 512.50 C259.43 511.28 255.83 510.00 253.70 508.90 C251.57 507.80 250.07 506.88 249.70 505.90 C249.33 504.92 250.35 504.10 251.50 503.00 C252.65 501.90 254.88 500.53 256.60 499.30 C258.32 498.07 259.95 496.83 261.80 495.60 C263.65 494.37 265.50 493.12 267.70 491.90 C269.90 490.68 272.55 489.52 275.00 488.30 C277.45 487.08 280.43 485.72 282.40 484.60 C284.37 483.48 285.68 482.95 286.80 481.60 C287.92 480.25 288.33 476.50 289.10 476.50 Z" fill="#d6b79e" stroke="#ad6a2e" stroke-width="1.5" stroke-linejoin="round"/>
<path d="M368.60 466.40 C368.97 466.40 368.83 471.28 369.70 473.00 C370.57 474.72 372.13 475.47 373.80 476.70 C375.47 477.93 377.85 479.17 379.70 480.40 C381.55 481.63 383.55 482.88 384.90 484.10 C386.25 485.32 387.20 486.48 387.80 487.70 C388.40 488.92 388.25 490.17 388.50 491.40 C388.75 492.63 388.43 493.87 389.30 495.10 C390.17 496.33 391.98 497.58 393.70 498.80 C395.42 500.02 398.01 501.18 399.60 502.40 C401.19 503.62 403.62 504.87 403.25 506.10 C402.88 507.33 400.09 508.57 397.40 509.80 C394.71 511.03 390.30 512.28 387.10 513.50 C383.90 514.72 380.70 515.88 378.20 517.10 C375.70 518.32 373.70 518.83 372.10 520.80 C370.50 522.77 369.77 528.90 368.60 528.90 C367.43 528.90 366.70 522.77 365.10 520.80 C363.50 518.83 361.50 518.32 359.00 517.10 C356.50 515.88 353.30 514.72 350.10 513.50 C346.90 512.28 342.49 511.03 339.80 509.80 C337.11 508.57 334.32 507.33 333.95 506.10 C333.58 504.87 336.01 503.62 337.60 502.40 C339.19 501.18 341.78 500.02 343.50 498.80 C345.22 497.58 347.03 496.33 347.90 495.10 C348.77 493.87 348.45 492.63 348.70 491.40 C348.95 490.17 348.80 488.92 349.40 487.70 C350.00 486.48 350.95 485.32 352.30 484.10 C353.65 482.88 355.65 481.63 357.50 480.40 C359.35 479.17 361.73 477.93 363.40 476.70 C365.07 475.47 366.63 474.72 367.50 473.00 C368.37 471.28 368.23 466.40 368.60 466.40 Z" fill="#7fd3f3" stroke="#283f80" stroke-width="1.5" stroke-linejoin="round"/>
<line x1="289.10" y1="495.60" x2="289.10" y2="514.70" stroke="#ffffff" stroke-width="1.8" />
<circle cx="289.10" cy="505.20" r="1.8" fill="#fff"/>
<line x1="368.60" y1="489.90" x2="368.60" y2="511.30" stroke="#ffffff" stroke-width="1.8" />
<circle cx="368.60" cy="501.00" r="1.8" fill="#fff"/>
<path d="M289.10 485.00 L289.10 483.50 L368.60 483.50 L368.60 485.00" fill="none" stroke="#000" stroke-width="1.1"/>
<text x="331.50" y="481.00" font-size="10.4" text-anchor="middle" fill="#000" stroke="#000" stroke-width="0.2" >ns</text>
<text x="430.00" y="413.60" font-size="8.4" text-anchor="start" fill="#000" stroke="#000" stroke-width="0.3" >Group</text>
<rect x="430.6" y="415.7" width="8.0" height="8.5" fill="#d7b9a1" stroke="#b5773f" stroke-width="1"/>
<rect x="430.6" y="424.2" width="8.0" height="8.5" fill="#7fd3f3" stroke="#4d66a6" stroke-width="1"/>
<text x="443.00" y="423.40" font-size="8.4" text-anchor="start" fill="#000" stroke="#000" stroke-width="0.3" >Intolerant Baseline</text>
<text x="443.00" y="432.00" font-size="8.4" text-anchor="start" fill="#000" stroke="#000" stroke-width="0.3" >Tolerant Baseline</text>
<text x="485.30" y="508.80" font-size="8.4" text-anchor="start" fill="#000" stroke="#000" stroke-width="0.3" >Group</text>
<rect x="488.6" y="511.60" width="8.6" height="8.6" fill="#b9b9bc" stroke="#8a8a8c" stroke-width="1"/>
<text x="503.30" y="518.50" font-size="8.4" text-anchor="start" fill="#000" stroke="#000" stroke-width="0.3" >Baseline</text>
<rect x="488.6" y="520.40" width="8.6" height="8.6" fill="#d7b9a1" stroke="#b5773f" stroke-width="1"/>
<text x="503.30" y="527.30" font-size="8.4" text-anchor="start" fill="#000" stroke="#000" stroke-width="0.3" >Adverse Reaction Occured</text>
<rect x="488.6" y="529.20" width="8.6" height="8.6" fill="#7fd3f3" stroke="#4a5d9e" stroke-width="1"/>
<text x="503.30" y="536.10" font-size="8.4" text-anchor="start" fill="#000" stroke="#000" stroke-width="0.3" >Tolerance Established</text>
<text x="4.10" y="562.70" font-size="22" text-anchor="start" fill="#000" >C</text>
<rect x="62.50" y="554.50" width="102.90" height="9.75" fill="#d3d3d3" stroke="#444444" stroke-width="1.2"/>
<text x="111.95" y="562.77" font-size="8.6" text-anchor="middle" fill="#000" stroke="#000" stroke-width="0.3" >SPA</text>
<rect x="62.50" y="564.25" width="102.90" height="116.50" fill="none" stroke="#444444" stroke-width="1.2"/>
<line x1="60.90" y1="579.50" x2="62.50" y2="579.50" stroke="#444444" stroke-width="0.9" />
<text x="42.50" y="581.88" font-size="8.6" text-anchor="middle" fill="#333333" stroke="#333333" stroke-width="0.25" >2000000</text>
<line x1="60.90" y1="606.25" x2="62.50" y2="606.25" stroke="#444444" stroke-width="0.9" />
<text x="42.50" y="608.63" font-size="8.6" text-anchor="middle" fill="#333333" stroke="#333333" stroke-width="0.25" >1500000</text>
<line x1="60.90" y1="633.00" x2="62.50" y2="633.00" stroke="#444444" stroke-width="0.9" />
<text x="42.50" y="635.38" font-size="8.6" text-anchor="middle" fill="#333333" stroke="#333333" stroke-width="0.25" >1000000</text>
<line x1="60.90" y1="659.60" x2="62.50" y2="659.60" stroke="#444444" stroke-width="0.9" />
<text x="42.50" y="661.98" font-size="8.6" text-anchor="middle" fill="#333333" stroke="#333333" stroke-width="0.25" >500000</text>
<line x1="81.70" y1="593.00" x2="81.70" y2="653.75" stroke="#a4a4a4" stroke-width="1.0" />
<rect x="70.20" y="610.00" width="23.00" height="35.00" fill="#b9b9bc" stroke="#8a8a8c" stroke-width="1.0"/>
<line x1="70.20" y1="637.50" x2="93.20" y2="637.50" stroke="#8a8a8c" stroke-width="1.0" />
<line x1="81.70" y1="604.50" x2="81.70" y2="651.25" stroke="#1c1c1c" stroke-width="1.05" />
<circle cx="81.70" cy="628.00" r="1.15" fill="#000"/>
<line x1="113.85" y1="642.50" x2="113.85" y2="676.00" stroke="#cf9a6e" stroke-width="1.0" />
<rect x="102.35" y="659.00" width="23.00" height="13.00" fill="#d7b9a1" stroke="#b5773f" stroke-width="1.0"/>
<line x1="102.35" y1="669.50" x2="125.35" y2="669.50" stroke="#b5773f" stroke-width="1.0" />
<line x1="113.85" y1="653.00" x2="113.85" y2="678.00" stroke="#1c1c1c" stroke-width="1.05" />
<circle cx="113.85" cy="664.25" r="1.15" fill="#000"/>
<line x1="146.00" y1="608.75" x2="146.00" y2="663.75" stroke="#8196c2" stroke-width="1.0" />
<rect x="134.50" y="625.00" width="23.00" height="23.00" fill="#7fd3f3" stroke="#4a5d9e" stroke-width="1.0"/>
<line x1="134.50" y1="628.75" x2="157.50" y2="628.75" stroke="#4a5d9e" stroke-width="1.0" />
<line x1="146.00" y1="616.00" x2="146.00" y2="650.00" stroke="#1c1c1c" stroke-width="1.05" />
<circle cx="146.00" cy="633.00" r="1.15" fill="#000"/>
<path d="M81.70 572.90 L81.70 570.50 L146.00 570.50 L146.00 572.90" fill="none" stroke="#111" stroke-width="1.0" stroke-linejoin="round"/>
<text x="113.85" y="569.50" font-size="9.5" text-anchor="middle" fill="#111" stroke="#111" stroke-width="0.25" >ns</text>
<path d="M113.85 581.90 L113.85 579.50 L146.00 579.50 L146.00 581.90" fill="none" stroke="#111" stroke-width="1.0" stroke-linejoin="round"/>
<polygon points="127.40,575.20 128.14,576.48 129.59,576.79 128.60,577.89 128.75,579.36 127.40,578.76 126.05,579.36 126.20,577.89 125.21,576.79 126.66,576.48" fill="#111" stroke="#111" stroke-width="0.5" stroke-linejoin="round"/>
<polygon points="132.45,575.20 133.19,576.48 134.64,576.79 133.65,577.89 133.80,579.36 132.45,578.76 131.10,579.36 131.25,577.89 130.26,576.79 131.71,576.48" fill="#111" stroke="#111" stroke-width="0.5" stroke-linejoin="round"/>
<path d="M81.70 591.90 L81.70 589.50 L113.85 589.50 L113.85 591.90" fill="none" stroke="#111" stroke-width="1.0" stroke-linejoin="round"/>
<polygon points="96.95,585.20 97.69,586.48 99.14,586.79 98.15,587.89 98.30,589.36 96.95,588.76 95.60,589.36 95.75,587.89 94.76,586.79 96.21,586.48" fill="#111" stroke="#111" stroke-width="0.5" stroke-linejoin="round"/>
<polygon points="102.00,585.20 102.74,586.48 104.19,586.79 103.20,587.89 103.35,589.36 102.00,588.76 100.65,589.36 100.80,587.89 99.81,586.79 101.26,586.48" fill="#111" stroke="#111" stroke-width="0.5" stroke-linejoin="round"/>
<rect x="204.50" y="554.50" width="102.90" height="9.75" fill="#d3d3d3" stroke="#444444" stroke-width="1.2"/>
<text x="259.55" y="562.77" font-size="8.6" text-anchor="middle" fill="#000" stroke="#000" stroke-width="0.3" >SM(d18:0/20:2)</text>
<rect x="204.50" y="564.25" width="102.90" height="116.50" fill="none" stroke="#444444" stroke-width="1.2"/>
<line x1="202.90" y1="577.00" x2="204.50" y2="577.00" stroke="#444444" stroke-width="0.9" />
<text x="184.30" y="579.38" font-size="8.6" text-anchor="middle" fill="#333333" stroke="#333333" stroke-width="0.25" >2000000</text>
<line x1="202.90" y1="603.25" x2="204.50" y2="603.25" stroke="#444444" stroke-width="0.9" />
<text x="184.30" y="605.63" font-size="8.6" text-anchor="middle" fill="#333333" stroke="#333333" stroke-width="0.25" >1500000</text>
<line x1="202.90" y1="629.50" x2="204.50" y2="629.50" stroke="#444444" stroke-width="0.9" />
<text x="184.30" y="631.88" font-size="8.6" text-anchor="middle" fill="#333333" stroke="#333333" stroke-width="0.25" >1000000</text>
<line x1="202.90" y1="655.60" x2="204.50" y2="655.60" stroke="#444444" stroke-width="0.9" />
<text x="184.30" y="657.98" font-size="8.6" text-anchor="middle" fill="#333333" stroke="#333333" stroke-width="0.25" >500000</text>
<line x1="223.70" y1="623.75" x2="223.70" y2="649.25" stroke="#a4a4a4" stroke-width="1.0" />
<rect x="212.20" y="628.75" width="23.00" height="13.00" fill="#b9b9bc" stroke="#8a8a8c" stroke-width="1.0"/>
<line x1="212.20" y1="637.00" x2="235.20" y2="637.00" stroke="#8a8a8c" stroke-width="1.0" />
<line x1="223.70" y1="626.00" x2="223.70" y2="647.00" stroke="#1c1c1c" stroke-width="1.05" />
<circle cx="223.70" cy="636.25" r="1.15" fill="#000"/>
<rect x="244.35" y="667.50" width="23.00" height="3.75" fill="#d7b9a1" stroke="#b5773f" stroke-width="0.75"/>
<line x1="244.35" y1="669.40" x2="267.35" y2="669.40" stroke="#b5773f" stroke-width="1.0" />
<line x1="255.85" y1="659.50" x2="255.85" y2="676.00" stroke="#1c1c1c" stroke-width="1.05" />
<circle cx="255.85" cy="645.75" r="1.25" fill="#b86a2c"/>
<circle cx="255.85" cy="668.00" r="1.15" fill="#000"/>
<line x1="288.00" y1="593.25" x2="288.00" y2="647.50" stroke="#8196c2" stroke-width="1.0" />
<rect x="276.50" y="612.00" width="23.00" height="15.50" fill="#7fd3f3" stroke="#4a5d9e" stroke-width="1.0"/>
<line x1="276.50" y1="617.00" x2="299.50" y2="617.00" stroke="#4a5d9e" stroke-width="1.0" />
<line x1="288.00" y1="603.75" x2="288.00" y2="635.00" stroke="#1c1c1c" stroke-width="1.05" />
<circle cx="288.00" cy="619.50" r="1.15" fill="#000"/>
<path d="M223.70 572.90 L223.70 570.50 L288.00 570.50 L288.00 572.90" fill="none" stroke="#111" stroke-width="1.0" stroke-linejoin="round"/>
<polygon points="255.85,565.95 256.59,567.23 258.04,567.54 257.05,568.64 257.20,570.11 255.85,569.51 254.50,570.11 254.65,568.64 253.66,567.54 255.11,567.23" fill="#111" stroke="#111" stroke-width="0.5" stroke-linejoin="round"/>
<path d="M255.85 581.90 L255.85 579.50 L288.00 579.50 L288.00 581.90" fill="none" stroke="#111" stroke-width="1.0" stroke-linejoin="round"/>
<polygon points="264.35,575.45 265.09,576.73 266.54,577.04 265.55,578.14 265.70,579.61 264.35,579.01 263.00,579.61 263.15,578.14 262.16,577.04 263.61,576.73" fill="#111" stroke="#111" stroke-width="0.5" stroke-linejoin="round"/>
<polygon points="269.40,575.45 270.14,576.73 271.59,577.04 270.60,578.14 270.75,579.61 269.40,579.01 268.05,579.61 268.20,578.14 267.21,577.04 268.66,576.73" fill="#111" stroke="#111" stroke-width="0.5" stroke-linejoin="round"/>
<polygon points="274.45,575.45 275.19,576.73 276.64,577.04 275.65,578.14 275.80,579.61 274.45,579.01 273.10,579.61 273.25,578.14 272.26,577.04 273.71,576.73" fill="#111" stroke="#111" stroke-width="0.5" stroke-linejoin="round"/>
<polygon points="279.50,575.45 280.24,576.73 281.69,577.04 280.70,578.14 280.85,579.61 279.50,579.01 278.15,579.61 278.30,578.14 277.31,577.04 278.76,576.73" fill="#111" stroke="#111" stroke-width="0.5" stroke-linejoin="round"/>
<path d="M223.70 591.90 L223.70 589.50 L255.85 589.50 L255.85 591.90" fill="none" stroke="#111" stroke-width="1.0" stroke-linejoin="round"/>
<polygon points="234.72,585.20 235.47,586.48 236.91,586.79 235.93,587.89 236.08,589.36 234.72,588.76 233.37,589.36 233.52,587.89 232.54,586.79 233.98,586.48" fill="#111" stroke="#111" stroke-width="0.5" stroke-linejoin="round"/>
<polygon points="239.77,585.20 240.52,586.48 241.96,586.79 240.98,587.89 241.13,589.36 239.77,588.76 238.42,589.36 238.57,587.89 237.59,586.79 239.03,586.48" fill="#111" stroke="#111" stroke-width="0.5" stroke-linejoin="round"/>
<polygon points="244.82,585.20 245.57,586.48 247.01,586.79 246.03,587.89 246.18,589.36 244.82,588.76 243.47,589.36 243.62,587.89 242.64,586.79 244.08,586.48" fill="#111" stroke="#111" stroke-width="0.5" stroke-linejoin="round"/>
<rect x="343.75" y="554.50" width="102.90" height="9.75" fill="#d3d3d3" stroke="#444444" stroke-width="1.2"/>
<text x="392.40" y="562.77" font-size="8.6" text-anchor="middle" fill="#000" stroke="#000" stroke-width="0.3" >MalA</text>
<rect x="343.75" y="564.25" width="102.90" height="116.50" fill="none" stroke="#444444" stroke-width="1.2"/>
<line x1="342.15" y1="631.75" x2="343.75" y2="631.75" stroke="#444444" stroke-width="0.9" />
<text x="326.90" y="634.13" font-size="8.6" text-anchor="middle" fill="#333333" stroke="#333333" stroke-width="0.25" >4e+05</text>
<line x1="342.15" y1="596.25" x2="343.75" y2="596.25" stroke="#444444" stroke-width="0.9" />
<text x="326.90" y="598.63" font-size="8.6" text-anchor="middle" fill="#333333" stroke="#333333" stroke-width="0.25" >8e+05</text>
<line x1="342.15" y1="667.25" x2="343.75" y2="667.25" stroke="#444444" stroke-width="0.9" />
<text x="326.90" y="669.63" font-size="8.6" text-anchor="middle" fill="#333333" stroke="#333333" stroke-width="0.25" >0e+00</text>
<line x1="362.95" y1="621.25" x2="362.95" y2="646.25" stroke="#a4a4a4" stroke-width="1.0" />
<rect x="351.45" y="632.50" width="23.00" height="10.00" fill="#b9b9bc" stroke="#8a8a8c" stroke-width="1.0"/>
<line x1="351.45" y1="639.25" x2="374.45" y2="639.25" stroke="#8a8a8c" stroke-width="1.0" />
<line x1="362.95" y1="622.00" x2="362.95" y2="645.00" stroke="#1c1c1c" stroke-width="1.05" />
<circle cx="362.95" cy="607.00" r="1.25" fill="#8a8a8a"/>
<circle cx="362.95" cy="618.00" r="1.25" fill="#8a8a8a"/>
<circle cx="362.95" cy="633.75" r="1.15" fill="#000"/>
<line x1="383.60" y1="665.75" x2="406.60" y2="665.75" stroke="#b5773f" stroke-width="1.3" />
<line x1="395.10" y1="647.50" x2="395.10" y2="675.00" stroke="#1c1c1c" stroke-width="1.05" />
<circle cx="395.10" cy="623.00" r="1.25" fill="#b86a2c"/>
<circle cx="395.10" cy="661.25" r="1.15" fill="#000"/>
<line x1="427.25" y1="591.25" x2="427.25" y2="654.50" stroke="#8196c2" stroke-width="1.0" />
<rect x="415.75" y="607.00" width="23.00" height="33.75" fill="#7fd3f3" stroke="#4a5d9e" stroke-width="1.0"/>
<line x1="415.75" y1="630.75" x2="438.75" y2="630.75" stroke="#4a5d9e" stroke-width="1.0" />
<line x1="427.25" y1="606.25" x2="427.25" y2="648.00" stroke="#1c1c1c" stroke-width="1.05" />
<circle cx="427.25" cy="626.75" r="1.15" fill="#000"/>
<path d="M362.95 572.90 L362.95 570.50 L427.25 570.50 L427.25 572.90" fill="none" stroke="#111" stroke-width="1.0" stroke-linejoin="round"/>
<text x="395.10" y="569.50" font-size="9.5" text-anchor="middle" fill="#111" stroke="#111" stroke-width="0.25" >ns</text>
<path d="M395.10 580.90 L395.10 578.50 L427.25 578.50 L427.25 580.90" fill="none" stroke="#111" stroke-width="1.0" stroke-linejoin="round"/>
<polygon points="408.65,574.70 409.39,575.98 410.84,576.29 409.85,577.39 410.00,578.86 408.65,578.26 407.30,578.86 407.45,577.39 406.46,576.29 407.91,575.98" fill="#111" stroke="#111" stroke-width="0.5" stroke-linejoin="round"/>
<polygon points="413.70,574.70 414.44,575.98 415.89,576.29 414.90,577.39 415.05,578.86 413.70,578.26 412.35,578.86 412.50,577.39 411.51,576.29 412.96,575.98" fill="#111" stroke="#111" stroke-width="0.5" stroke-linejoin="round"/>
<path d="M362.95 590.90 L362.95 588.50 L395.10 588.50 L395.10 590.90" fill="none" stroke="#111" stroke-width="1.0" stroke-linejoin="round"/>
<polygon points="376.50,583.95 377.24,585.23 378.69,585.54 377.70,586.64 377.85,588.11 376.50,587.51 375.15,588.11 375.30,586.64 374.31,585.54 375.76,585.23" fill="#111" stroke="#111" stroke-width="0.5" stroke-linejoin="round"/>
<polygon points="381.55,583.95 382.29,585.23 383.74,585.54 382.75,586.64 382.90,588.11 381.55,587.51 380.20,588.11 380.35,586.64 379.36,585.54 380.81,585.23" fill="#111" stroke="#111" stroke-width="0.5" stroke-linejoin="round"/>
<rect x="486.00" y="554.50" width="102.90" height="9.75" fill="#d3d3d3" stroke="#444444" stroke-width="1.2"/>
<text x="536.00" y="562.77" font-size="8.6" text-anchor="middle" fill="#000" stroke="#000" stroke-width="0.3" >Aldo-18G</text>
<rect x="486.00" y="564.25" width="102.90" height="116.50" fill="none" stroke="#444444" stroke-width="1.2"/>
<line x1="484.40" y1="580.75" x2="486.00" y2="580.75" stroke="#444444" stroke-width="0.9" />
<text x="468.90" y="583.13" font-size="8.6" text-anchor="middle" fill="#333333" stroke="#333333" stroke-width="0.25" >4e+05</text>
<line x1="484.40" y1="603.20" x2="486.00" y2="603.20" stroke="#444444" stroke-width="0.9" />
<text x="468.90" y="605.58" font-size="8.6" text-anchor="middle" fill="#333333" stroke="#333333" stroke-width="0.25" >3e+05</text>
<line x1="484.40" y1="625.70" x2="486.00" y2="625.70" stroke="#444444" stroke-width="0.9" />
<text x="468.90" y="628.08" font-size="8.6" text-anchor="middle" fill="#333333" stroke="#333333" stroke-width="0.25" >2e+05</text>
<line x1="484.40" y1="648.10" x2="486.00" y2="648.10" stroke="#444444" stroke-width="0.9" />
<text x="468.90" y="650.48" font-size="8.6" text-anchor="middle" fill="#333333" stroke="#333333" stroke-width="0.25" >1e+05</text>
<line x1="484.40" y1="670.50" x2="486.00" y2="670.50" stroke="#444444" stroke-width="0.9" />
<text x="468.90" y="672.88" font-size="8.6" text-anchor="middle" fill="#333333" stroke="#333333" stroke-width="0.25" >0e+00</text>
<line x1="505.20" y1="614.25" x2="505.20" y2="656.25" stroke="#a4a4a4" stroke-width="1.0" />
<rect x="493.70" y="635.25" width="23.00" height="17.25" fill="#b9b9bc" stroke="#8a8a8c" stroke-width="1.0"/>
<line x1="493.70" y1="639.25" x2="516.70" y2="639.25" stroke="#8a8a8c" stroke-width="1.0" />
<line x1="505.20" y1="627.50" x2="505.20" y2="655.00" stroke="#1c1c1c" stroke-width="1.05" />
<circle cx="505.20" cy="640.75" r="1.15" fill="#000"/>
<line x1="525.85" y1="670.75" x2="548.85" y2="670.75" stroke="#b5773f" stroke-width="1.3" />
<line x1="537.35" y1="661.75" x2="537.35" y2="675.00" stroke="#1c1c1c" stroke-width="1.05" />
<circle cx="537.35" cy="650.00" r="1.25" fill="#b86a2c"/>
<circle cx="537.35" cy="668.75" r="1.15" fill="#000"/>
<line x1="569.50" y1="592.50" x2="569.50" y2="648.00" stroke="#8196c2" stroke-width="1.0" />
<rect x="558.00" y="609.00" width="23.00" height="25.00" fill="#7fd3f3" stroke="#4a5d9e" stroke-width="1.0"/>
<line x1="558.00" y1="619.75" x2="581.00" y2="619.75" stroke="#4a5d9e" stroke-width="1.0" />
<line x1="569.50" y1="603.75" x2="569.50" y2="641.25" stroke="#1c1c1c" stroke-width="1.05" />
<circle cx="569.50" cy="622.50" r="1.15" fill="#000"/>
<path d="M505.20 572.90 L505.20 570.50 L569.50 570.50 L569.50 572.90" fill="none" stroke="#111" stroke-width="1.0" stroke-linejoin="round"/>
<polygon points="535.35,565.95 536.09,567.23 537.54,567.54 536.55,568.64 536.70,570.11 535.35,569.51 534.00,570.11 534.15,568.64 533.16,567.54 534.61,567.23" fill="#111" stroke="#111" stroke-width="0.5" stroke-linejoin="round"/>
<path d="M537.35 581.90 L537.35 579.50 L569.50 579.50 L569.50 581.90" fill="none" stroke="#111" stroke-width="1.0" stroke-linejoin="round"/>
<polygon points="545.85,575.20 546.59,576.48 548.04,576.79 547.05,577.89 547.20,579.36 545.85,578.76 544.50,579.36 544.65,577.89 543.66,576.79 545.11,576.48" fill="#111" stroke="#111" stroke-width="0.5" stroke-linejoin="round"/>
<polygon points="550.90,575.20 551.64,576.48 553.09,576.79 552.10,577.89 552.25,579.36 550.90,578.76 549.55,579.36 549.70,577.89 548.71,576.79 550.16,576.48" fill="#111" stroke="#111" stroke-width="0.5" stroke-linejoin="round"/>
<polygon points="555.95,575.20 556.69,576.48 558.14,576.79 557.15,577.89 557.30,579.36 555.95,578.76 554.60,579.36 554.75,577.89 553.76,576.79 555.21,576.48" fill="#111" stroke="#111" stroke-width="0.5" stroke-linejoin="round"/>
<polygon points="561.00,575.20 561.74,576.48 563.19,576.79 562.20,577.89 562.35,579.36 561.00,578.76 559.65,579.36 559.80,577.89 558.81,576.79 560.26,576.48" fill="#111" stroke="#111" stroke-width="0.5" stroke-linejoin="round"/>
<path d="M505.20 590.90 L505.20 588.50 L537.35 588.50 L537.35 590.90" fill="none" stroke="#111" stroke-width="1.0" stroke-linejoin="round"/>
<polygon points="516.23,584.70 516.97,585.98 518.41,586.29 517.43,587.39 517.58,588.86 516.23,588.26 514.87,588.86 515.02,587.39 514.04,586.29 515.48,585.98" fill="#111" stroke="#111" stroke-width="0.5" stroke-linejoin="round"/>
<polygon points="521.27,584.70 522.02,585.98 523.46,586.29 522.48,587.39 522.63,588.86 521.27,588.26 519.92,588.86 520.07,587.39 519.09,586.29 520.53,585.98" fill="#111" stroke="#111" stroke-width="0.5" stroke-linejoin="round"/>
<polygon points="526.32,584.70 527.07,585.98 528.51,586.29 527.53,587.39 527.68,588.86 526.32,588.26 524.97,588.86 525.12,587.39 524.14,586.29 525.58,585.98" fill="#111" stroke="#111" stroke-width="0.5" stroke-linejoin="round"/>
<rect x="62.50" y="687.00" width="102.90" height="9.50" fill="#d3d3d3" stroke="#444444" stroke-width="1.2"/>
<text x="116.45" y="695.15" font-size="8.6" text-anchor="middle" fill="#000" stroke="#000" stroke-width="0.3" >PC(22:4/22:5)</text>
<rect x="62.50" y="696.50" width="102.90" height="117.00" fill="none" stroke="#444444" stroke-width="1.2"/>
<line x1="60.90" y1="698.25" x2="62.50" y2="698.25" stroke="#444444" stroke-width="0.9" />
<text x="42.50" y="700.63" font-size="8.6" text-anchor="middle" fill="#333333" stroke="#333333" stroke-width="0.25" >3e+06</text>
<line x1="60.90" y1="734.90" x2="62.50" y2="734.90" stroke="#444444" stroke-width="0.9" />
<text x="42.50" y="737.28" font-size="8.6" text-anchor="middle" fill="#333333" stroke="#333333" stroke-width="0.25" >2e+06</text>
<line x1="60.90" y1="771.50" x2="62.50" y2="771.50" stroke="#444444" stroke-width="0.9" />
<text x="42.50" y="773.88" font-size="8.6" text-anchor="middle" fill="#333333" stroke="#333333" stroke-width="0.25" >1e+06</text>
<line x1="60.90" y1="808.00" x2="62.50" y2="808.00" stroke="#444444" stroke-width="0.9" />
<text x="42.50" y="810.38" font-size="8.6" text-anchor="middle" fill="#333333" stroke="#333333" stroke-width="0.25" >0e+00</text>
<line x1="70.20" y1="808.00" x2="93.20" y2="808.00" stroke="#8a8a8c" stroke-width="1.3" />
<circle cx="81.70" cy="808.00" r="1.15" fill="#000"/>
<line x1="113.85" y1="725.50" x2="113.85" y2="804.50" stroke="#cf9a6e" stroke-width="1.0" />
<rect x="102.35" y="735.75" width="23.00" height="28.25" fill="#d7b9a1" stroke="#b5773f" stroke-width="1.0"/>
<line x1="102.35" y1="744.25" x2="125.35" y2="744.25" stroke="#b5773f" stroke-width="1.0" />
<line x1="113.85" y1="728.75" x2="113.85" y2="779.50" stroke="#1c1c1c" stroke-width="1.05" />
<circle cx="113.85" cy="754.50" r="1.15" fill="#000"/>
<rect x="134.50" y="803.00" width="23.00" height="3.25" fill="#7fd3f3" stroke="#4a5d9e" stroke-width="0.75"/>
<line x1="134.50" y1="804.60" x2="157.50" y2="804.60" stroke="#4a5d9e" stroke-width="1.0" />
<circle cx="146.00" cy="805.00" r="1.15" fill="#000"/>
<path d="M81.70 704.90 L81.70 702.50 L146.00 702.50 L146.00 704.90" fill="none" stroke="#111" stroke-width="1.0" stroke-linejoin="round"/>
<polygon points="108.80,698.45 109.54,699.73 110.99,700.04 110.00,701.14 110.15,702.61 108.80,702.01 107.45,702.61 107.60,701.14 106.61,700.04 108.06,699.73" fill="#111" stroke="#111" stroke-width="0.5" stroke-linejoin="round"/>
<polygon points="113.85,698.45 114.59,699.73 116.04,700.04 115.05,701.14 115.20,702.61 113.85,702.01 112.50,702.61 112.65,701.14 111.66,700.04 113.11,699.73" fill="#111" stroke="#111" stroke-width="0.5" stroke-linejoin="round"/>
<polygon points="118.90,698.45 119.64,699.73 121.09,700.04 120.10,701.14 120.25,702.61 118.90,702.01 117.55,702.61 117.70,701.14 116.71,700.04 118.16,699.73" fill="#111" stroke="#111" stroke-width="0.5" stroke-linejoin="round"/>
<path d="M113.85 714.90 L113.85 712.50 L146.00 712.50 L146.00 714.90" fill="none" stroke="#111" stroke-width="1.0" stroke-linejoin="round"/>
<polygon points="124.88,707.95 125.62,709.23 127.06,709.54 126.08,710.64 126.23,712.11 124.88,711.51 123.52,712.11 123.67,710.64 122.69,709.54 124.13,709.23" fill="#111" stroke="#111" stroke-width="0.5" stroke-linejoin="round"/>
<polygon points="129.93,707.95 130.67,709.23 132.11,709.54 131.13,710.64 131.28,712.11 129.93,711.51 128.57,712.11 128.72,710.64 127.74,709.54 129.18,709.23" fill="#111" stroke="#111" stroke-width="0.5" stroke-linejoin="round"/>
<polygon points="134.98,707.95 135.72,709.23 137.16,709.54 136.18,710.64 136.33,712.11 134.98,711.51 133.62,712.11 133.77,710.64 132.79,709.54 134.23,709.23" fill="#111" stroke="#111" stroke-width="0.5" stroke-linejoin="round"/>
<path d="M81.70 723.90 L81.70 721.50 L113.85 721.50 L113.85 723.90" fill="none" stroke="#111" stroke-width="1.0" stroke-linejoin="round"/>
<polygon points="91.30,717.70 92.04,718.98 93.49,719.29 92.50,720.39 92.65,721.86 91.30,721.26 89.95,721.86 90.10,720.39 89.11,719.29 90.56,718.98" fill="#111" stroke="#111" stroke-width="0.5" stroke-linejoin="round"/>
<polygon points="96.35,717.70 97.09,718.98 98.54,719.29 97.55,720.39 97.70,721.86 96.35,721.26 95.00,721.86 95.15,720.39 94.16,719.29 95.61,718.98" fill="#111" stroke="#111" stroke-width="0.5" stroke-linejoin="round"/>
<polygon points="101.40,717.70 102.14,718.98 103.59,719.29 102.60,720.39 102.75,721.86 101.40,721.26 100.05,721.86 100.20,720.39 99.21,719.29 100.66,718.98" fill="#111" stroke="#111" stroke-width="0.5" stroke-linejoin="round"/>
<polygon points="106.45,717.70 107.19,718.98 108.64,719.29 107.65,720.39 107.80,721.86 106.45,721.26 105.10,721.86 105.25,720.39 104.26,719.29 105.71,718.98" fill="#111" stroke="#111" stroke-width="0.5" stroke-linejoin="round"/>
<rect x="204.50" y="687.00" width="102.90" height="9.50" fill="#d3d3d3" stroke="#444444" stroke-width="1.2"/>
<text x="256.15" y="695.15" font-size="8.6" text-anchor="middle" fill="#000" stroke="#000" stroke-width="0.3" >DHAP-AE</text>
<rect x="204.50" y="696.50" width="102.90" height="117.00" fill="none" stroke="#444444" stroke-width="1.2"/>
<line x1="202.90" y1="699.50" x2="204.50" y2="699.50" stroke="#444444" stroke-width="0.9" />
<text x="184.30" y="701.88" font-size="8.6" text-anchor="middle" fill="#333333" stroke="#333333" stroke-width="0.25" >300000</text>
<line x1="202.90" y1="728.40" x2="204.50" y2="728.40" stroke="#444444" stroke-width="0.9" />
<text x="184.30" y="730.78" font-size="8.6" text-anchor="middle" fill="#333333" stroke="#333333" stroke-width="0.25" >250000</text>
<line x1="202.90" y1="757.30" x2="204.50" y2="757.30" stroke="#444444" stroke-width="0.9" />
<text x="184.30" y="759.68" font-size="8.6" text-anchor="middle" fill="#333333" stroke="#333333" stroke-width="0.25" >200000</text>
<line x1="202.90" y1="786.20" x2="204.50" y2="786.20" stroke="#444444" stroke-width="0.9" />
<text x="184.30" y="788.58" font-size="8.6" text-anchor="middle" fill="#333333" stroke="#333333" stroke-width="0.25" >150000</text>
<line x1="223.70" y1="791.25" x2="223.70" y2="800.00" stroke="#a4a4a4" stroke-width="1.0" />
<rect x="212.20" y="793.75" width="23.00" height="5.00" fill="#b9b9bc" stroke="#8a8a8c" stroke-width="0.75"/>
<line x1="212.20" y1="796.25" x2="235.20" y2="796.25" stroke="#8a8a8c" stroke-width="1.0" />
<line x1="223.70" y1="792.00" x2="223.70" y2="799.00" stroke="#1c1c1c" stroke-width="1.05" />
<circle cx="223.70" cy="785.50" r="1.25" fill="#8a8a8a"/>
<circle cx="223.70" cy="795.75" r="1.15" fill="#000"/>
<line x1="255.85" y1="726.25" x2="255.85" y2="792.00" stroke="#cf9a6e" stroke-width="1.0" />
<rect x="244.35" y="731.25" width="23.00" height="45.50" fill="#d7b9a1" stroke="#b5773f" stroke-width="1.0"/>
<line x1="244.35" y1="751.25" x2="267.35" y2="751.25" stroke="#b5773f" stroke-width="1.0" />
<line x1="255.85" y1="727.00" x2="255.85" y2="776.25" stroke="#1c1c1c" stroke-width="1.05" />
<circle cx="255.85" cy="752.50" r="1.15" fill="#000"/>
<line x1="288.00" y1="741.25" x2="288.00" y2="807.50" stroke="#8196c2" stroke-width="1.0" />
<rect x="276.50" y="770.50" width="23.00" height="24.50" fill="#7fd3f3" stroke="#4a5d9e" stroke-width="1.0"/>
<line x1="276.50" y1="780.50" x2="299.50" y2="780.50" stroke="#4a5d9e" stroke-width="1.0" />
<line x1="288.00" y1="759.50" x2="288.00" y2="801.25" stroke="#1c1c1c" stroke-width="1.05" />
<circle cx="288.00" cy="780.75" r="1.15" fill="#000"/>
<path d="M223.70 704.90 L223.70 702.50 L288.00 702.50 L288.00 704.90" fill="none" stroke="#111" stroke-width="1.0" stroke-linejoin="round"/>
<text x="255.85" y="701.50" font-size="9.5" text-anchor="middle" fill="#111" stroke="#111" stroke-width="0.25" >ns</text>
<path d="M255.85 713.90 L255.85 711.50 L288.00 711.50 L288.00 713.90" fill="none" stroke="#111" stroke-width="1.0" stroke-linejoin="round"/>
<polygon points="273.12,707.20 273.87,708.48 275.31,708.79 274.33,709.89 274.48,711.36 273.12,710.76 271.77,711.36 271.92,709.89 270.94,708.79 272.38,708.48" fill="#111" stroke="#111" stroke-width="0.5" stroke-linejoin="round"/>
<path d="M223.70 723.90 L223.70 721.50 L255.85 721.50 L255.85 723.90" fill="none" stroke="#111" stroke-width="1.0" stroke-linejoin="round"/>
<polygon points="232.20,717.70 232.94,718.98 234.39,719.29 233.40,720.39 233.55,721.86 232.20,721.26 230.85,721.86 231.00,720.39 230.01,719.29 231.46,718.98" fill="#111" stroke="#111" stroke-width="0.5" stroke-linejoin="round"/>
<polygon points="237.25,717.70 237.99,718.98 239.44,719.29 238.45,720.39 238.60,721.86 237.25,721.26 235.90,721.86 236.05,720.39 235.06,719.29 236.51,718.98" fill="#111" stroke="#111" stroke-width="0.5" stroke-linejoin="round"/>
<polygon points="242.30,717.70 243.04,718.98 244.49,719.29 243.50,720.39 243.65,721.86 242.30,721.26 240.95,721.86 241.10,720.39 240.11,719.29 241.56,718.98" fill="#111" stroke="#111" stroke-width="0.5" stroke-linejoin="round"/>
<polygon points="247.35,717.70 248.09,718.98 249.54,719.29 248.55,720.39 248.70,721.86 247.35,721.26 246.00,721.86 246.15,720.39 245.16,719.29 246.61,718.98" fill="#111" stroke="#111" stroke-width="0.5" stroke-linejoin="round"/>
<rect x="343.75" y="687.00" width="102.90" height="9.50" fill="#d3d3d3" stroke="#444444" stroke-width="1.2"/>
<text x="395.60" y="695.15" font-size="8.6" text-anchor="middle" fill="#000" stroke="#000" stroke-width="0.3" >PC(22:6/0:0)</text>
<rect x="343.75" y="696.50" width="102.90" height="117.00" fill="none" stroke="#444444" stroke-width="1.2"/>
<line x1="342.15" y1="720.00" x2="343.75" y2="720.00" stroke="#444444" stroke-width="0.9" />
<text x="326.90" y="722.38" font-size="8.6" text-anchor="middle" fill="#333333" stroke="#333333" stroke-width="0.25" >3e+06</text>
<line x1="342.15" y1="744.60" x2="343.75" y2="744.60" stroke="#444444" stroke-width="0.9" />
<text x="326.90" y="746.98" font-size="8.6" text-anchor="middle" fill="#333333" stroke="#333333" stroke-width="0.25" >2e+06</text>
<line x1="342.15" y1="769.20" x2="343.75" y2="769.20" stroke="#444444" stroke-width="0.9" />
<text x="326.90" y="771.58" font-size="8.6" text-anchor="middle" fill="#333333" stroke="#333333" stroke-width="0.25" >1e+06</text>
<line x1="342.15" y1="793.75" x2="343.75" y2="793.75" stroke="#444444" stroke-width="0.9" />
<text x="326.90" y="796.13" font-size="8.6" text-anchor="middle" fill="#333333" stroke="#333333" stroke-width="0.25" >0e+00</text>
<line x1="351.45" y1="794.25" x2="374.45" y2="794.25" stroke="#8a8a8c" stroke-width="1.3" />
<circle cx="362.95" cy="794.25" r="1.15" fill="#000"/>
<rect x="383.60" y="783.75" width="23.00" height="3.75" fill="#d7b9a1" stroke="#b5773f" stroke-width="0.75"/>
<line x1="383.60" y1="785.50" x2="406.60" y2="785.50" stroke="#b5773f" stroke-width="1.0" />
<line x1="395.10" y1="780.00" x2="395.10" y2="791.00" stroke="#1c1c1c" stroke-width="1.05" />
<circle cx="395.10" cy="778.75" r="1.25" fill="#b86a2c"/>
<circle cx="395.10" cy="792.50" r="1.25" fill="#b86a2c"/>
<circle cx="395.10" cy="785.50" r="1.15" fill="#000"/>
<rect x="415.75" y="790.50" width="23.00" height="3.25" fill="#7fd3f3" stroke="#4a5d9e" stroke-width="0.75"/>
<line x1="415.75" y1="792.00" x2="438.75" y2="792.00" stroke="#4a5d9e" stroke-width="1.0" />
<line x1="427.25" y1="761.75" x2="427.25" y2="807.50" stroke="#1c1c1c" stroke-width="1.05" />
<circle cx="427.25" cy="722.75" r="1.25" fill="#3d5aa8"/>
<circle cx="427.25" cy="785.00" r="1.15" fill="#000"/>
<path d="M362.95 704.90 L362.95 702.50 L427.25 702.50 L427.25 704.90" fill="none" stroke="#111" stroke-width="1.0" stroke-linejoin="round"/>
<polygon points="387.53,697.95 388.27,699.23 389.71,699.54 388.73,700.64 388.88,702.11 387.53,701.51 386.17,702.11 386.32,700.64 385.34,699.54 386.78,699.23" fill="#111" stroke="#111" stroke-width="0.5" stroke-linejoin="round"/>
<polygon points="392.58,697.95 393.32,699.23 394.76,699.54 393.78,700.64 393.93,702.11 392.58,701.51 391.22,702.11 391.37,700.64 390.39,699.54 391.83,699.23" fill="#111" stroke="#111" stroke-width="0.5" stroke-linejoin="round"/>
<polygon points="397.62,697.95 398.37,699.23 399.81,699.54 398.83,700.64 398.98,702.11 397.62,701.51 396.27,702.11 396.42,700.64 395.44,699.54 396.88,699.23" fill="#111" stroke="#111" stroke-width="0.5" stroke-linejoin="round"/>
<polygon points="402.68,697.95 403.42,699.23 404.86,699.54 403.88,700.64 404.03,702.11 402.68,701.51 401.32,702.11 401.47,700.64 400.49,699.54 401.93,699.23" fill="#111" stroke="#111" stroke-width="0.5" stroke-linejoin="round"/>
<path d="M395.10 712.90 L395.10 710.50 L427.25 710.50 L427.25 712.90" fill="none" stroke="#111" stroke-width="1.0" stroke-linejoin="round"/>
<polygon points="411.68,706.45 412.42,707.73 413.86,708.04 412.88,709.14 413.03,710.61 411.68,710.01 410.32,710.61 410.47,709.14 409.49,708.04 410.93,707.73" fill="#111" stroke="#111" stroke-width="0.5" stroke-linejoin="round"/>
<path d="M362.95 721.90 L362.95 719.50 L395.10 719.50 L395.10 721.90" fill="none" stroke="#111" stroke-width="1.0" stroke-linejoin="round"/>
<polygon points="371.45,715.45 372.19,716.73 373.64,717.04 372.65,718.14 372.80,719.61 371.45,719.01 370.10,719.61 370.25,718.14 369.26,717.04 370.71,716.73" fill="#111" stroke="#111" stroke-width="0.5" stroke-linejoin="round"/>
<polygon points="376.50,715.45 377.24,716.73 378.69,717.04 377.70,718.14 377.85,719.61 376.50,719.01 375.15,719.61 375.30,718.14 374.31,717.04 375.76,716.73" fill="#111" stroke="#111" stroke-width="0.5" stroke-linejoin="round"/>
<polygon points="381.55,715.45 382.29,716.73 383.74,717.04 382.75,718.14 382.90,719.61 381.55,719.01 380.20,719.61 380.35,718.14 379.36,717.04 380.81,716.73" fill="#111" stroke="#111" stroke-width="0.5" stroke-linejoin="round"/>
<polygon points="386.60,715.45 387.34,716.73 388.79,717.04 387.80,718.14 387.95,719.61 386.60,719.01 385.25,719.61 385.40,718.14 384.41,717.04 385.86,716.73" fill="#111" stroke="#111" stroke-width="0.5" stroke-linejoin="round"/>
<rect x="486.00" y="687.00" width="102.90" height="9.50" fill="#d3d3d3" stroke="#444444" stroke-width="1.2"/>
<text x="537.75" y="695.15" font-size="8.6" text-anchor="middle" fill="#000" stroke="#000" stroke-width="0.3" >9,10-DiHOME</text>
<rect x="486.00" y="696.50" width="102.90" height="117.00" fill="none" stroke="#444444" stroke-width="1.2"/>
<line x1="484.40" y1="728.00" x2="486.00" y2="728.00" stroke="#444444" stroke-width="0.9" />
<text x="468.90" y="730.38" font-size="8.6" text-anchor="middle" fill="#333333" stroke="#333333" stroke-width="0.25" >4e+05</text>
<line x1="484.40" y1="768.10" x2="486.00" y2="768.10" stroke="#444444" stroke-width="0.9" />
<text x="468.90" y="770.48" font-size="8.6" text-anchor="middle" fill="#333333" stroke="#333333" stroke-width="0.25" >2e+05</text>
<line x1="484.40" y1="808.25" x2="486.00" y2="808.25" stroke="#444444" stroke-width="0.9" />
<text x="468.90" y="810.63" font-size="8.6" text-anchor="middle" fill="#333333" stroke="#333333" stroke-width="0.25" >0e+00</text>
<line x1="505.20" y1="786.75" x2="505.20" y2="796.25" stroke="#a4a4a4" stroke-width="1.0" />
<rect x="493.70" y="789.00" width="23.00" height="6.75" fill="#b9b9bc" stroke="#8a8a8c" stroke-width="1.0"/>
<line x1="493.70" y1="792.00" x2="516.70" y2="792.00" stroke="#8a8a8c" stroke-width="1.0" />
<line x1="505.20" y1="787.00" x2="505.20" y2="796.00" stroke="#1c1c1c" stroke-width="1.05" />
<circle cx="505.20" cy="792.50" r="1.15" fill="#000"/>
<line x1="537.35" y1="740.00" x2="537.35" y2="764.50" stroke="#cf9a6e" stroke-width="1.0" />
<rect x="525.85" y="748.25" width="23.00" height="8.25" fill="#d7b9a1" stroke="#b5773f" stroke-width="1.0"/>
<line x1="525.85" y1="752.50" x2="548.85" y2="752.50" stroke="#b5773f" stroke-width="1.0" />
<line x1="537.35" y1="740.00" x2="537.35" y2="764.50" stroke="#1c1c1c" stroke-width="1.05" />
<circle cx="537.35" cy="724.50" r="1.25" fill="#b86a2c"/>
<circle cx="537.35" cy="750.75" r="1.15" fill="#000"/>
<line x1="569.50" y1="785.50" x2="569.50" y2="807.50" stroke="#8196c2" stroke-width="1.0" />
<rect x="558.00" y="797.50" width="23.00" height="5.75" fill="#7fd3f3" stroke="#4a5d9e" stroke-width="1.0"/>
<line x1="558.00" y1="800.00" x2="581.00" y2="800.00" stroke="#4a5d9e" stroke-width="1.0" />
<line x1="569.50" y1="785.50" x2="569.50" y2="807.50" stroke="#1c1c1c" stroke-width="1.05" />
<circle cx="569.50" cy="768.75" r="1.25" fill="#3d5aa8"/>
<circle cx="569.50" cy="797.00" r="1.15" fill="#000"/>
<path d="M505.20 704.90 L505.20 702.50 L569.50 702.50 L569.50 704.90" fill="none" stroke="#111" stroke-width="1.0" stroke-linejoin="round"/>
<polygon points="535.75,697.95 536.49,699.23 537.94,699.54 536.95,700.64 537.10,702.11 535.75,701.51 534.40,702.11 534.55,700.64 533.56,699.54 535.01,699.23" fill="#111" stroke="#111" stroke-width="0.5" stroke-linejoin="round"/>
<path d="M537.35 713.90 L537.35 711.50 L569.50 711.50 L569.50 713.90" fill="none" stroke="#111" stroke-width="1.0" stroke-linejoin="round"/>
<polygon points="545.85,707.20 546.59,708.48 548.04,708.79 547.05,709.89 547.20,711.36 545.85,710.76 544.50,711.36 544.65,709.89 543.66,708.79 545.11,708.48" fill="#111" stroke="#111" stroke-width="0.5" stroke-linejoin="round"/>
<polygon points="550.90,707.20 551.64,708.48 553.09,708.79 552.10,709.89 552.25,711.36 550.90,710.76 549.55,711.36 549.70,709.89 548.71,708.79 550.16,708.48" fill="#111" stroke="#111" stroke-width="0.5" stroke-linejoin="round"/>
<polygon points="555.95,707.20 556.69,708.48 558.14,708.79 557.15,709.89 557.30,711.36 555.95,710.76 554.60,711.36 554.75,709.89 553.76,708.79 555.21,708.48" fill="#111" stroke="#111" stroke-width="0.5" stroke-linejoin="round"/>
<polygon points="561.00,707.20 561.74,708.48 563.19,708.79 562.20,709.89 562.35,711.36 561.00,710.76 559.65,711.36 559.80,709.89 558.81,708.79 560.26,708.48" fill="#111" stroke="#111" stroke-width="0.5" stroke-linejoin="round"/>
<path d="M505.20 723.90 L505.20 721.50 L537.35 721.50 L537.35 723.90" fill="none" stroke="#111" stroke-width="1.0" stroke-linejoin="round"/>
<polygon points="513.70,717.70 514.44,718.98 515.89,719.29 514.90,720.39 515.05,721.86 513.70,721.26 512.35,721.86 512.50,720.39 511.51,719.29 512.96,718.98" fill="#111" stroke="#111" stroke-width="0.5" stroke-linejoin="round"/>
<polygon points="518.75,717.70 519.49,718.98 520.94,719.29 519.95,720.39 520.10,721.86 518.75,721.26 517.40,721.86 517.55,720.39 516.56,719.29 518.01,718.98" fill="#111" stroke="#111" stroke-width="0.5" stroke-linejoin="round"/>
<polygon points="523.80,717.70 524.54,718.98 525.99,719.29 525.00,720.39 525.15,721.86 523.80,721.26 522.45,721.86 522.60,720.39 521.61,719.29 523.06,718.98" fill="#111" stroke="#111" stroke-width="0.5" stroke-linejoin="round"/>
<polygon points="528.85,717.70 529.59,718.98 531.04,719.29 530.05,720.39 530.20,721.86 528.85,721.26 527.50,721.86 527.65,720.39 526.66,719.29 528.11,718.98" fill="#111" stroke="#111" stroke-width="0.5" stroke-linejoin="round"/>
</svg>
</body></html>
